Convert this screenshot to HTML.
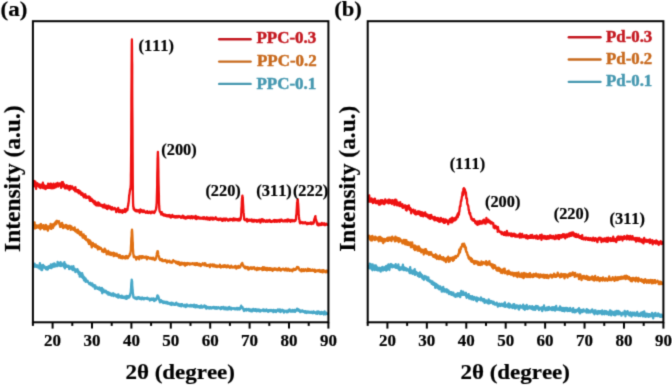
<!DOCTYPE html>
<html><head><meta charset="utf-8"><style>
html,body{margin:0;padding:0;background:#fff;}
body{width:672px;height:385px;overflow:hidden;font-family:"Liberation Serif", serif;}
svg{display:block;}
</style></head><body>
<svg width="672" height="385" viewBox="0 0 672 385" font-family='"Liberation Serif", serif' font-weight="bold" style="font-kerning:none">
<rect width="672" height="385" fill="#fff"/>
<defs><filter id="bl" color-interpolation-filters="sRGB" filterUnits="userSpaceOnUse" x="0" y="0" width="672" height="385"><feConvolveMatrix order="3" kernelMatrix="0.0225 0.1050 0.0225 0.1050 0.4900 0.1050 0.0225 0.1050 0.0225" preserveAlpha="true" edgeMode="duplicate"/></filter></defs><g filter="url(#bl)"><rect width="672" height="385" fill="#fff"/>
<polyline points="33.9,265.8 34.1,266.5 34.4,265.9 34.6,263.6 34.9,266.9 35.1,266.3 35.4,265.0 35.6,266.7 35.9,266.4 36.1,266.4 36.4,266.1 36.6,266.9 36.9,265.2 37.1,266.1 37.4,265.7 37.6,267.3 37.9,266.6 38.1,266.2 38.4,265.6 38.6,266.4 38.9,266.8 39.1,266.4 39.4,268.6 39.6,268.3 39.9,263.1 40.1,264.3 40.4,266.7 40.6,266.4 40.9,267.3 41.1,267.3 41.4,270.0 41.6,265.5 41.9,266.6 42.1,270.0 42.4,268.0 42.6,268.1 42.9,266.5 43.1,265.0 43.4,267.6 43.6,267.6 43.9,265.8 44.1,266.7 44.4,267.6 44.6,266.4 44.9,267.7 45.1,268.0 45.4,268.0 45.6,267.3 45.9,268.9 46.1,269.4 46.4,268.7 46.6,267.2 46.9,269.4 47.1,267.8 47.4,269.6 47.6,266.9 47.9,269.4 48.1,268.1 48.4,266.3 48.6,267.4 48.9,267.8 49.1,267.9 49.4,266.2 49.6,265.9 49.9,267.5 50.1,266.5 50.4,267.3 50.6,267.8 50.9,264.5 51.1,266.9 51.4,268.1 51.6,266.0 51.9,265.2 52.1,267.2 52.4,266.4 52.6,267.2 52.9,265.5 53.1,264.0 53.4,265.7 53.6,265.2 53.9,266.7 54.1,265.8 54.4,263.4 54.6,263.9 54.9,266.5 55.1,266.2 55.4,264.4 55.6,265.2 55.9,265.7 56.1,265.6 56.4,266.1 56.6,265.2 56.9,264.7 57.1,264.5 57.4,266.1 57.6,261.8 57.9,264.4 58.1,264.6 58.4,262.7 58.6,264.9 58.9,263.6 59.1,265.4 59.4,264.1 59.6,265.1 59.9,265.7 60.1,264.6 60.4,263.0 60.6,262.1 60.9,266.2 61.1,264.0 61.4,263.3 61.6,264.4 61.9,264.1 62.1,265.5 62.4,264.5 62.6,264.6 62.9,263.7 63.1,265.3 63.4,263.5 63.6,265.6 63.9,266.8 64.2,263.1 64.4,262.1 64.7,266.0 64.9,268.4 65.2,264.2 65.4,264.0 65.7,266.4 65.9,264.8 66.2,265.3 66.4,265.6 66.7,266.8 66.9,265.8 67.2,266.8 67.4,266.3 67.7,265.7 67.9,266.4 68.2,265.8 68.4,267.1 68.7,265.8 68.9,266.0 69.2,269.1 69.4,267.3 69.7,267.4 69.9,268.2 70.2,267.1 70.4,267.4 70.7,268.3 70.9,268.2 71.2,266.5 71.4,269.0 71.7,267.4 71.9,266.9 72.2,267.1 72.4,267.8 72.7,270.2 72.9,267.0 73.2,268.7 73.4,266.2 73.7,268.8 73.9,270.0 74.2,268.8 74.4,268.5 74.7,269.7 74.9,270.3 75.2,270.5 75.4,272.1 75.7,270.2 75.9,269.5 76.2,270.2 76.4,270.4 76.7,270.7 76.9,270.7 77.2,271.1 77.4,269.2 77.7,272.2 77.9,270.9 78.2,270.5 78.4,272.8 78.7,273.8 78.9,273.2 79.2,273.1 79.4,272.1 79.7,276.6 79.9,274.7 80.2,272.7 80.4,273.4 80.7,274.6 80.9,273.1 81.2,275.3 81.4,274.8 81.7,277.0 81.9,276.9 82.2,273.2 82.4,276.5 82.7,274.9 82.9,278.2 83.2,277.4 83.4,278.1 83.7,276.6 83.9,280.0 84.2,280.5 84.4,277.5 84.7,279.3 84.9,278.4 85.2,279.4 85.4,278.3 85.7,281.9 85.9,279.2 86.2,280.2 86.4,281.3 86.7,280.4 86.9,281.1 87.2,281.0 87.4,281.7 87.7,280.9 87.9,281.9 88.2,282.4 88.4,282.4 88.7,283.0 88.9,282.8 89.2,284.1 89.4,283.1 89.7,283.5 89.9,283.1 90.2,283.4 90.4,282.8 90.7,284.9 90.9,283.3 91.2,283.9 91.4,285.2 91.7,285.4 91.9,284.8 92.2,283.3 92.4,285.9 92.7,285.9 92.9,284.3 93.2,286.7 93.4,285.4 93.7,285.1 93.9,286.5 94.2,286.3 94.4,286.9 94.7,285.2 94.9,288.8 95.2,286.5 95.4,285.7 95.7,288.0 95.9,287.2 96.2,288.0 96.4,287.4 96.7,287.8 96.9,288.3 97.2,287.4 97.4,288.9 97.7,287.9 97.9,287.6 98.2,288.7 98.4,289.1 98.7,288.6 98.9,288.1 99.2,289.6 99.4,287.5 99.7,288.3 99.9,289.4 100.2,288.2 100.4,289.6 100.7,289.7 100.9,290.7 101.2,289.1 101.4,289.5 101.7,290.5 101.9,288.0 102.2,293.3 102.4,289.9 102.7,290.0 102.9,291.6 103.2,290.9 103.4,289.3 103.7,291.7 103.9,292.0 104.2,290.9 104.4,291.2 104.7,292.0 104.9,290.8 105.2,292.1 105.4,292.0 105.7,291.3 105.9,290.8 106.2,291.9 106.4,291.4 106.7,293.3 106.9,292.6 107.2,293.3 107.4,292.8 107.7,293.0 107.9,292.1 108.2,293.6 108.4,294.7 108.7,292.9 108.9,292.7 109.2,293.2 109.4,293.0 109.7,292.9 109.9,293.7 110.2,293.5 110.4,295.1 110.7,293.9 110.9,294.3 111.2,294.9 111.4,293.9 111.7,295.5 111.9,293.8 112.2,293.7 112.4,294.2 112.7,294.5 112.9,293.4 113.2,294.7 113.4,293.4 113.7,296.1 113.9,294.9 114.2,294.5 114.4,294.3 114.7,294.9 114.9,295.1 115.2,294.5 115.4,294.6 115.7,295.3 115.9,295.1 116.2,296.5 116.4,296.7 116.7,295.8 116.9,296.3 117.2,294.8 117.4,296.6 117.7,296.1 117.9,296.6 118.2,297.6 118.4,294.5 118.7,296.6 118.9,295.6 119.2,297.1 119.4,295.6 119.7,296.3 119.9,296.9 120.2,297.3 120.4,296.9 120.7,296.2 120.9,296.5 121.2,297.7 121.4,297.0 121.7,295.7 121.9,297.8 122.2,297.5 122.4,297.9 122.7,297.0 122.9,297.9 123.2,296.5 123.4,297.8 123.7,296.9 123.9,297.8 124.2,298.1 124.4,296.7 124.7,297.3 124.9,297.3 125.2,298.2 125.4,297.9 125.7,296.4 125.9,297.7 126.2,297.9 126.4,298.9 126.7,296.0 126.9,296.9 127.2,298.3 127.4,296.2 127.7,296.3 127.9,297.5 128.2,297.8 128.4,296.4 128.7,297.2 128.9,296.7 129.2,297.5 129.4,296.1 129.7,296.5 129.9,294.7 130.0,295.1 130.2,294.8 130.3,295.3 130.4,294.4 130.4,293.2 130.6,293.3 130.7,293.0 130.8,291.5 130.9,289.7 131.1,287.8 131.2,285.3 131.2,285.9 131.3,283.8 131.4,282.4 131.5,282.4 131.7,279.7 131.8,280.0 131.9,280.3 131.9,282.4 132.1,281.3 132.2,283.5 132.2,285.1 132.4,287.1 132.6,290.0 132.7,289.9 132.7,289.7 132.8,293.6 132.9,292.7 133.0,294.2 133.2,294.6 133.3,296.9 133.4,297.1 133.4,296.1 133.6,297.6 133.7,297.1 133.9,297.2 134.2,297.5 134.4,297.5 134.7,298.2 134.9,298.0 135.2,297.6 135.4,298.6 135.7,297.5 135.9,298.2 136.2,298.3 136.4,299.0 136.7,297.6 136.9,299.2 137.2,298.1 137.4,297.9 137.7,297.5 137.9,298.4 138.2,298.0 138.4,297.2 138.7,297.2 138.9,297.6 139.2,297.5 139.4,298.7 139.7,298.9 139.9,298.6 140.2,298.2 140.4,297.7 140.7,298.0 140.9,298.6 141.2,299.4 141.4,298.6 141.7,297.8 141.9,298.0 142.2,297.7 142.4,297.5 142.7,297.9 142.9,298.1 143.2,299.2 143.4,298.1 143.7,299.0 143.9,299.3 144.2,298.2 144.4,299.2 144.7,298.7 144.9,298.0 145.2,298.5 145.4,298.4 145.7,298.2 145.9,298.3 146.2,298.5 146.4,298.7 146.7,298.0 146.9,298.5 147.2,297.6 147.4,298.8 147.7,299.0 147.9,298.8 148.2,298.9 148.4,299.1 148.7,298.4 148.9,298.7 149.2,299.2 149.4,299.5 149.7,299.2 149.9,300.5 150.2,299.0 150.4,299.7 150.7,299.9 150.9,299.1 151.2,298.7 151.4,298.5 151.7,299.4 151.9,300.0 152.2,299.5 152.4,299.5 152.7,299.2 152.9,299.8 153.2,298.3 153.4,299.7 153.7,299.6 153.9,298.8 154.2,301.0 154.4,298.9 154.7,299.1 154.9,299.1 155.2,300.5 155.4,299.3 155.7,300.2 155.9,300.0 156.2,299.6 156.4,298.2 156.7,298.0 156.9,298.6 157.2,296.0 157.4,295.5 157.7,295.5 157.9,296.1 158.2,296.2 158.4,297.4 158.7,297.3 158.9,299.4 159.2,300.0 159.4,299.3 159.7,301.6 159.9,302.3 160.2,300.6 160.4,301.3 160.7,302.1 160.9,300.5 161.2,300.3 161.4,300.8 161.7,301.3 161.9,301.3 162.2,302.1 162.4,302.0 162.7,301.1 162.9,302.2 163.2,303.1 163.4,302.7 163.7,302.7 163.9,302.1 164.2,302.8 164.4,301.7 164.7,302.8 164.9,302.3 165.2,303.1 165.4,302.8 165.7,301.9 165.9,302.7 166.2,303.4 166.4,302.0 166.7,302.4 166.9,302.4 167.2,302.0 167.4,303.5 167.7,303.8 167.9,303.5 168.2,303.2 168.4,303.1 168.7,303.4 168.9,302.8 169.2,303.9 169.4,304.0 169.7,304.0 169.9,303.2 170.2,303.6 170.4,303.5 170.7,304.7 170.9,303.8 171.2,302.7 171.4,304.1 171.7,305.0 171.9,304.4 172.2,304.5 172.4,304.1 172.7,302.9 172.9,303.1 173.2,303.5 173.4,304.2 173.7,304.4 173.9,304.7 174.2,304.1 174.4,304.9 174.7,304.2 174.9,304.0 175.2,304.9 175.4,303.9 175.7,302.8 175.9,303.8 176.2,304.6 176.4,302.7 176.7,304.3 176.9,304.4 177.2,303.7 177.4,303.7 177.7,304.4 177.9,304.3 178.2,305.4 178.4,304.9 178.7,303.8 178.9,304.2 179.2,305.2 179.4,305.9 179.7,305.1 179.9,305.0 180.2,306.0 180.4,304.9 180.7,304.7 180.9,304.1 181.2,304.7 181.4,306.3 181.7,304.2 181.9,305.0 182.2,304.2 182.4,305.2 182.7,305.6 182.9,305.0 183.2,305.6 183.4,305.6 183.7,305.5 183.9,306.3 184.2,305.7 184.4,305.1 184.7,304.9 184.9,304.8 185.2,305.6 185.4,305.2 185.7,307.0 185.9,306.5 186.2,305.3 186.4,305.3 186.7,306.5 186.9,304.4 187.2,305.3 187.4,306.1 187.7,305.0 187.9,305.3 188.2,305.4 188.4,306.0 188.7,305.8 188.9,305.9 189.2,306.1 189.4,305.8 189.7,306.4 189.9,305.4 190.2,305.0 190.4,304.8 190.7,304.9 190.9,305.6 191.2,306.5 191.4,306.0 191.7,305.6 191.9,305.3 192.2,305.7 192.4,305.8 192.7,305.7 192.9,305.2 193.2,305.8 193.4,306.8 193.7,304.9 193.9,306.0 194.2,304.9 194.4,306.3 194.7,305.8 194.9,305.0 195.2,306.4 195.4,307.4 195.7,306.4 195.9,307.1 196.2,306.4 196.4,305.1 196.7,306.8 196.9,306.2 197.2,305.6 197.4,307.0 197.7,306.7 197.9,306.3 198.2,307.1 198.4,306.1 198.7,307.1 198.9,306.1 199.2,307.0 199.4,306.1 199.7,307.7 199.9,306.9 200.2,307.7 200.4,306.3 200.7,306.6 200.9,307.4 201.2,305.3 201.4,306.3 201.7,307.6 201.9,307.3 202.2,307.6 202.4,306.9 202.7,307.4 202.9,306.7 203.2,306.3 203.4,306.1 203.7,306.8 203.9,306.9 204.2,306.8 204.4,305.4 204.7,306.1 204.9,307.0 205.2,307.5 205.4,307.0 205.7,306.8 205.9,306.0 206.2,308.6 206.4,306.8 206.7,308.5 206.9,308.4 207.2,307.7 207.4,307.2 207.7,307.6 207.9,306.9 208.2,307.7 208.4,307.6 208.7,307.9 208.9,308.2 209.2,308.6 209.4,307.4 209.7,308.3 209.9,307.2 210.2,307.1 210.4,307.3 210.7,307.1 210.9,308.3 211.2,308.3 211.4,308.5 211.7,307.7 211.9,307.9 212.2,307.4 212.4,307.1 212.7,308.1 212.9,308.0 213.2,307.1 213.4,308.2 213.7,306.8 213.9,307.7 214.2,307.5 214.4,307.6 214.7,307.2 214.9,308.5 215.2,308.2 215.4,308.6 215.7,308.0 215.9,307.2 216.2,307.7 216.4,307.3 216.7,308.3 216.9,308.7 217.2,308.2 217.4,307.7 217.7,307.8 217.9,308.2 218.2,307.2 218.4,308.2 218.7,308.2 218.9,307.8 219.2,307.8 219.4,308.2 219.7,307.6 219.9,307.6 220.2,308.6 220.4,308.3 220.7,309.2 220.9,307.6 221.2,307.1 221.4,308.8 221.7,308.8 221.9,307.8 222.2,307.4 222.4,308.2 222.7,307.2 222.9,308.1 223.2,307.0 223.4,308.2 223.7,307.0 223.9,308.2 224.2,309.2 224.4,308.2 224.7,308.8 224.9,308.0 225.2,307.8 225.4,307.5 225.7,309.0 225.9,308.3 226.2,309.4 226.4,307.7 226.7,308.3 226.9,308.5 227.2,309.3 227.4,309.5 227.7,308.0 227.9,307.8 228.2,307.4 228.4,309.3 228.7,308.4 228.9,308.1 229.2,308.4 229.4,306.9 229.7,307.5 229.9,309.1 230.2,308.7 230.4,308.6 230.7,307.9 230.9,308.9 231.2,309.6 231.4,307.8 231.7,308.6 231.9,308.3 232.2,308.8 232.4,308.6 232.7,308.5 232.9,308.1 233.2,308.6 233.4,308.2 233.7,308.5 233.9,308.6 234.2,309.0 234.4,308.3 234.7,308.5 234.9,309.3 235.2,308.5 235.4,308.5 235.7,309.2 235.9,308.9 236.2,308.8 236.4,308.8 236.7,308.0 236.9,309.0 237.2,309.5 237.4,309.1 237.7,307.8 237.9,308.9 238.2,308.2 238.4,308.7 238.7,308.9 238.9,308.1 239.2,309.6 239.4,308.7 239.7,309.1 239.9,308.9 240.2,309.0 240.4,308.7 240.7,306.7 240.9,307.3 241.2,305.7 241.4,306.5 241.7,307.1 241.9,307.3 242.2,307.7 242.4,307.0 242.7,307.8 242.9,308.1 243.2,309.2 243.4,309.7 243.7,308.8 243.9,311.0 244.2,309.3 244.4,309.1 244.7,309.8 244.9,309.9 245.2,309.8 245.4,309.1 245.7,310.4 245.9,309.6 246.2,310.5 246.4,310.5 246.7,308.9 246.9,309.1 247.2,309.1 247.4,309.9 247.7,309.8 247.9,309.9 248.2,309.3 248.4,310.0 248.7,310.6 248.9,309.0 249.2,309.7 249.4,310.0 249.7,309.8 249.9,309.8 250.2,311.0 250.4,310.7 250.7,310.4 250.9,309.5 251.2,311.3 251.4,310.2 251.7,309.6 251.9,309.8 252.2,309.7 252.4,311.3 252.7,310.2 252.9,310.1 253.2,308.8 253.4,310.5 253.7,309.5 253.9,309.5 254.2,310.5 254.4,309.6 254.7,310.7 254.9,310.9 255.2,309.1 255.4,310.2 255.7,309.3 255.9,310.2 256.1,310.8 256.4,309.5 256.6,311.4 256.9,310.1 257.1,309.6 257.4,310.3 257.6,310.9 257.9,309.6 258.1,310.4 258.4,309.6 258.6,311.2 258.9,310.5 259.1,310.2 259.4,311.1 259.6,309.7 259.9,310.3 260.1,311.6 260.4,310.5 260.6,311.4 260.9,310.7 261.1,310.2 261.4,310.4 261.6,310.6 261.9,310.4 262.1,310.1 262.4,310.1 262.6,309.7 262.9,310.7 263.1,310.9 263.4,311.1 263.6,309.5 263.9,311.1 264.1,310.6 264.4,309.8 264.6,310.7 264.9,311.1 265.1,311.0 265.4,311.1 265.6,311.2 265.9,311.2 266.1,310.6 266.4,309.4 266.6,310.2 266.9,310.9 267.1,310.4 267.4,311.1 267.6,311.2 267.9,310.7 268.1,311.8 268.4,310.1 268.6,311.3 268.9,310.4 269.1,310.2 269.4,311.1 269.6,310.3 269.9,311.2 270.1,310.0 270.4,310.7 270.6,310.2 270.9,310.6 271.1,310.5 271.4,310.1 271.6,311.1 271.9,310.0 272.1,310.2 272.4,311.3 272.6,311.3 272.9,311.2 273.1,311.0 273.4,312.1 273.6,310.0 273.9,310.3 274.1,310.2 274.4,311.3 274.6,311.0 274.9,311.5 275.1,311.4 275.4,310.7 275.6,310.3 275.9,310.2 276.1,312.2 276.4,311.4 276.6,311.2 276.9,310.6 277.1,310.7 277.4,310.7 277.6,310.7 277.9,309.4 278.1,310.8 278.4,310.7 278.6,311.1 278.9,311.0 279.1,311.4 279.4,310.9 279.6,311.4 279.9,309.4 280.1,310.3 280.4,312.0 280.6,310.2 280.9,310.8 281.1,311.4 281.4,310.4 281.6,311.4 281.9,310.1 282.1,309.8 282.4,310.2 282.6,310.0 282.9,311.0 283.1,310.8 283.4,311.2 283.6,310.4 283.9,312.6 284.1,311.0 284.4,311.0 284.6,311.3 284.9,310.9 285.1,310.7 285.4,311.1 285.6,311.6 285.9,311.5 286.1,311.7 286.4,310.8 286.6,310.7 286.9,312.3 287.1,311.0 287.4,311.4 287.6,311.6 287.9,312.0 288.1,310.4 288.4,310.9 288.6,310.9 288.9,311.0 289.1,309.7 289.4,311.1 289.6,309.4 289.9,311.3 290.1,311.5 290.4,311.5 290.6,310.4 290.9,311.7 291.1,310.6 291.4,310.4 291.6,310.5 291.9,310.6 292.1,311.2 292.4,311.6 292.6,309.8 292.9,310.7 293.1,311.6 293.4,311.2 293.6,311.3 293.9,310.1 294.1,311.6 294.4,310.0 294.6,311.0 294.9,311.7 295.1,311.9 295.4,311.0 295.6,311.0 295.9,310.0 296.1,309.9 296.4,310.7 296.6,309.8 296.9,309.5 297.1,308.6 297.4,309.5 297.6,309.8 297.9,309.0 298.1,309.3 298.4,310.8 298.6,310.1 298.9,310.1 299.1,309.8 299.4,310.3 299.6,310.6 299.9,311.7 300.1,310.6 300.4,312.2 300.6,310.6 300.9,311.0 301.1,311.7 301.4,311.1 301.6,310.8 301.9,311.2 302.1,311.6 302.4,310.3 302.6,311.3 302.9,311.4 303.1,311.2 303.4,311.9 303.6,311.2 303.9,311.3 304.1,311.6 304.4,312.0 304.6,311.5 304.9,312.6 305.1,311.1 305.4,312.5 305.6,311.2 305.9,311.7 306.1,312.0 306.4,313.0 306.6,312.4 306.9,311.6 307.1,312.7 307.4,311.8 307.6,311.5 307.9,312.2 308.1,312.1 308.4,312.6 308.6,311.7 308.9,312.3 309.1,312.5 309.4,312.3 309.6,312.1 309.9,311.8 310.1,312.8 310.4,312.3 310.6,312.5 310.9,312.0 311.1,312.3 311.4,311.7 311.6,312.3 311.9,312.8 312.1,312.4 312.4,312.9 312.6,312.5 312.9,313.2 313.1,312.3 313.4,311.4 313.6,312.7 313.9,312.3 314.1,311.9 314.4,312.8 314.6,312.6 314.9,312.8 315.1,312.3 315.4,312.6 315.6,312.7 315.9,313.6 316.1,312.2 316.4,312.6 316.6,312.8 316.9,311.6 317.1,311.7 317.4,313.9 317.6,311.6 317.9,313.0 318.1,312.2 318.4,312.2 318.6,311.5 318.9,312.2 319.1,313.2 319.4,311.9 319.6,313.1 319.9,313.0 320.1,314.0 320.4,312.5 320.6,313.6 320.9,313.4 321.1,312.7 321.4,311.9 321.6,313.8 321.9,312.1 322.1,312.6 322.4,313.5 322.6,313.6 322.9,312.5 323.1,313.0 323.4,312.8 323.6,313.7 323.9,314.5 324.1,311.9 324.4,313.6 324.6,311.3 324.9,313.1 325.1,312.4 325.4,314.3 325.6,313.2 325.9,312.7 326.1,312.9 326.4,312.8 326.6,313.3 326.9,313.1 327.1,313.6 327.4,314.1 327.6,313.6" fill="none" stroke="#48a8c8" stroke-width="2.3" stroke-linejoin="round"/>
<polyline points="33.9,225.9 34.1,225.0 34.4,225.2 34.6,222.4 34.9,228.5 35.1,227.7 35.4,225.6 35.6,227.3 35.9,226.6 36.1,225.5 36.4,227.8 36.6,226.0 36.9,226.1 37.1,225.5 37.4,227.3 37.6,226.5 37.9,227.4 38.1,225.8 38.4,226.8 38.6,225.3 38.9,227.8 39.1,226.8 39.4,227.0 39.6,227.1 39.9,225.1 40.1,227.6 40.4,229.3 40.6,224.1 40.9,224.0 41.1,224.3 41.4,227.5 41.6,226.5 41.9,227.8 42.1,227.3 42.4,226.7 42.6,226.9 42.9,226.3 43.1,227.8 43.4,225.2 43.6,226.2 43.9,227.2 44.1,229.4 44.4,226.0 44.6,225.6 44.9,226.4 45.1,228.6 45.4,227.0 45.6,229.2 45.9,224.9 46.1,229.1 46.4,229.0 46.6,225.7 46.9,227.8 47.1,229.2 47.4,227.6 47.6,228.8 47.9,230.7 48.1,227.8 48.4,227.1 48.6,226.4 48.9,228.2 49.1,227.1 49.4,227.1 49.6,227.2 49.9,228.2 50.1,225.9 50.4,225.2 50.6,224.0 50.9,228.8 51.1,227.2 51.4,228.9 51.6,226.7 51.9,225.5 52.1,226.9 52.4,226.0 52.6,224.3 52.9,224.5 53.1,227.8 53.4,225.8 53.6,225.6 53.9,224.5 54.1,223.8 54.4,225.7 54.6,224.1 54.9,222.9 55.1,223.4 55.4,222.2 55.6,223.3 55.9,224.2 56.1,221.4 56.4,224.0 56.6,221.0 56.9,222.1 57.1,221.0 57.4,221.9 57.6,222.4 57.9,221.9 58.1,221.8 58.4,221.9 58.6,221.9 58.9,221.1 59.1,222.9 59.4,223.9 59.6,224.7 59.9,224.5 60.1,226.9 60.4,224.4 60.6,223.7 60.9,226.8 61.1,223.3 61.4,226.0 61.6,223.8 61.9,225.6 62.1,222.9 62.4,226.7 62.6,225.5 62.9,224.7 63.1,228.2 63.4,227.2 63.6,226.4 63.9,225.4 64.2,226.3 64.4,226.2 64.7,227.3 64.9,227.4 65.2,225.6 65.4,225.8 65.7,225.9 65.9,224.9 66.2,225.8 66.4,226.5 66.7,227.4 66.9,228.2 67.2,225.7 67.4,227.3 67.7,226.2 67.9,229.2 68.2,226.8 68.4,227.5 68.7,225.9 68.9,226.2 69.2,227.5 69.4,226.9 69.7,227.9 69.9,225.7 70.2,228.4 70.4,226.7 70.7,229.9 70.9,227.6 71.2,229.3 71.4,226.5 71.7,228.7 71.9,227.3 72.2,227.9 72.4,228.6 72.7,228.3 72.9,229.2 73.2,229.9 73.4,229.9 73.7,229.2 73.9,227.9 74.2,228.7 74.4,229.5 74.7,227.5 74.9,230.9 75.2,230.0 75.4,230.1 75.7,231.6 75.9,231.4 76.2,231.1 76.4,229.9 76.7,231.5 76.9,231.7 77.2,230.4 77.4,232.8 77.7,232.3 77.9,229.7 78.2,232.2 78.4,230.8 78.7,233.6 78.9,233.4 79.2,231.5 79.4,231.9 79.7,233.1 79.9,232.9 80.2,235.0 80.4,234.3 80.7,233.4 80.9,234.6 81.2,231.9 81.4,234.7 81.7,235.6 81.9,234.6 82.2,234.3 82.4,235.9 82.7,237.6 82.9,235.9 83.2,234.7 83.4,237.7 83.7,234.3 83.9,237.1 84.2,236.2 84.4,238.0 84.7,236.4 84.9,238.9 85.2,238.1 85.4,236.2 85.7,236.1 85.9,238.2 86.2,240.1 86.4,239.1 86.7,239.3 86.9,239.3 87.2,240.5 87.4,240.4 87.7,240.5 87.9,239.5 88.2,242.0 88.4,242.5 88.7,239.9 88.9,244.0 89.2,242.6 89.4,241.6 89.7,240.4 89.9,243.3 90.2,243.5 90.4,242.6 90.7,241.6 90.9,244.9 91.2,243.4 91.4,243.8 91.7,247.4 91.9,247.0 92.2,245.9 92.4,244.6 92.7,245.8 92.9,242.9 93.2,245.4 93.4,244.7 93.7,244.2 93.9,244.0 94.2,246.2 94.4,245.9 94.7,246.1 94.9,246.8 95.2,245.2 95.4,244.9 95.7,244.5 95.9,246.0 96.2,247.3 96.4,246.5 96.7,247.5 96.9,245.8 97.2,246.7 97.4,246.6 97.7,246.2 97.9,249.5 98.2,248.6 98.4,247.2 98.7,247.4 98.9,248.2 99.2,247.0 99.4,249.0 99.7,247.5 99.9,248.5 100.2,248.0 100.4,248.7 100.7,248.0 100.9,247.9 101.2,248.6 101.4,249.0 101.7,249.5 101.9,249.9 102.2,251.4 102.4,250.9 102.7,250.0 102.9,251.0 103.2,249.8 103.4,252.0 103.7,251.2 103.9,249.6 104.2,251.6 104.4,251.8 104.7,248.7 104.9,250.6 105.2,250.9 105.4,249.7 105.7,250.6 105.9,250.8 106.2,252.3 106.4,252.2 106.7,254.4 106.9,251.8 107.2,253.3 107.4,252.4 107.7,252.7 107.9,251.5 108.2,250.9 108.4,252.0 108.7,253.5 108.9,254.3 109.2,253.5 109.4,253.5 109.7,252.4 109.9,254.6 110.2,254.5 110.4,253.0 110.7,253.5 110.9,252.7 111.2,255.0 111.4,254.2 111.7,253.8 111.9,254.3 112.2,254.3 112.4,253.6 112.7,253.0 112.9,253.0 113.2,252.7 113.4,254.6 113.7,256.2 113.9,252.8 114.2,254.5 114.4,254.8 114.7,253.6 114.9,254.7 115.2,253.6 115.4,255.7 115.7,254.2 115.9,254.9 116.2,255.5 116.4,254.7 116.7,253.6 116.9,254.8 117.2,256.0 117.4,255.4 117.7,255.8 117.9,254.8 118.2,255.9 118.4,256.5 118.7,256.0 118.9,257.7 119.2,256.0 119.4,255.4 119.7,255.0 119.9,257.3 120.2,256.4 120.4,257.4 120.7,257.0 120.9,258.0 121.2,257.8 121.4,256.5 121.7,257.1 121.9,257.9 122.2,256.1 122.4,258.3 122.7,258.2 122.9,258.1 123.2,257.2 123.4,257.6 123.7,256.5 123.9,257.5 124.2,257.0 124.4,257.5 124.7,257.1 124.9,257.8 125.2,258.5 125.4,256.6 125.7,258.3 125.9,256.1 126.2,256.0 126.4,257.6 126.7,257.7 126.9,258.0 127.2,256.3 127.4,257.5 127.7,257.5 127.9,258.2 128.2,257.1 128.4,257.3 128.7,255.9 128.9,256.2 129.2,255.6 129.4,255.9 129.7,254.1 129.9,253.7 130.2,254.1 130.2,254.8 130.3,253.2 130.4,252.9 130.5,251.9 130.7,251.9 130.8,250.1 130.9,249.7 130.9,247.9 131.1,244.4 131.2,243.8 131.2,241.3 131.4,237.8 131.6,236.3 131.7,234.0 131.7,231.7 131.8,232.1 131.9,230.7 132.0,229.7 132.2,231.6 132.3,233.6 132.4,235.2 132.4,235.5 132.6,240.6 132.7,242.1 132.8,242.5 132.9,248.1 133.1,251.0 133.2,251.7 133.2,252.8 133.3,254.0 133.4,254.0 133.5,255.0 133.7,257.0 133.8,255.4 133.9,256.8 134.2,257.2 134.4,256.7 134.7,257.0 134.9,256.5 135.2,256.9 135.4,257.6 135.7,257.8 135.9,257.0 136.2,259.7 136.4,257.2 136.7,257.6 136.9,257.4 137.2,257.3 137.4,258.4 137.7,257.2 137.9,258.4 138.2,258.3 138.4,256.7 138.7,258.2 138.9,257.0 139.2,259.3 139.4,257.1 139.7,256.8 139.9,256.1 140.2,256.5 140.4,257.0 140.7,256.7 140.9,256.5 141.2,256.8 141.4,257.2 141.7,258.2 141.9,256.1 142.2,256.9 142.4,256.6 142.7,256.2 142.9,256.4 143.2,256.6 143.4,257.7 143.7,257.1 143.9,256.9 144.2,257.7 144.4,257.5 144.7,257.2 144.9,257.6 145.2,256.8 145.4,257.7 145.7,257.7 145.9,257.1 146.2,256.6 146.4,258.4 146.7,257.5 146.9,259.3 147.2,257.0 147.4,258.0 147.7,257.2 147.9,257.7 148.2,258.1 148.4,257.1 148.7,257.6 148.9,257.9 149.2,257.9 149.4,258.3 149.7,258.6 149.9,258.5 150.2,258.3 150.4,258.0 150.7,257.6 150.9,257.9 151.2,258.1 151.4,258.9 151.7,258.3 151.9,257.9 152.2,259.1 152.4,258.3 152.7,258.4 152.9,258.8 153.2,259.2 153.4,257.6 153.7,258.4 153.9,259.3 154.2,259.0 154.4,258.7 154.7,258.9 154.9,260.0 155.2,258.9 155.4,259.5 155.7,259.3 155.9,258.2 156.2,258.0 156.4,256.5 156.7,255.0 156.9,253.2 157.2,253.1 157.4,251.4 157.7,251.1 157.9,251.3 158.2,254.2 158.4,255.0 158.7,256.0 158.9,256.9 159.2,257.3 159.4,259.0 159.7,259.4 159.9,258.5 160.2,260.2 160.4,260.1 160.7,259.1 160.9,259.4 161.2,259.6 161.4,260.0 161.7,259.9 161.9,259.1 162.2,261.0 162.4,260.4 162.7,261.0 162.9,261.1 163.2,260.3 163.4,260.7 163.7,261.0 163.9,261.1 164.2,260.6 164.4,260.4 164.7,260.8 164.9,260.4 165.2,260.6 165.4,259.8 165.7,261.2 165.9,260.6 166.2,260.9 166.4,261.3 166.7,261.6 166.9,262.6 167.2,261.6 167.4,260.7 167.7,261.6 167.9,261.2 168.2,261.8 168.4,261.2 168.7,261.2 168.9,261.4 169.2,261.3 169.4,260.6 169.7,261.3 169.9,261.7 170.2,262.5 170.4,261.6 170.7,261.6 170.9,262.1 171.2,262.1 171.4,262.7 171.7,262.1 171.9,261.7 172.2,262.4 172.4,262.5 172.7,261.2 172.9,261.4 173.2,260.2 173.4,261.0 173.7,260.6 173.9,261.1 174.2,260.9 174.4,261.2 174.7,261.4 174.9,261.9 175.2,261.9 175.4,261.6 175.7,261.4 175.9,263.0 176.2,263.3 176.4,262.3 176.7,263.0 176.9,261.8 177.2,261.9 177.4,262.7 177.7,263.8 177.9,262.3 178.2,262.5 178.4,264.0 178.7,262.0 178.9,263.6 179.2,263.5 179.4,263.2 179.7,263.4 179.9,265.0 180.2,262.8 180.4,263.3 180.7,263.4 180.9,263.2 181.2,262.8 181.4,264.6 181.7,263.9 181.9,262.7 182.2,263.4 182.4,264.1 182.7,264.2 182.9,263.1 183.2,263.9 183.4,264.1 183.7,264.2 183.9,264.2 184.2,262.9 184.4,265.1 184.7,264.1 184.9,265.0 185.2,265.7 185.4,263.8 185.7,263.2 185.9,264.4 186.2,263.8 186.4,263.6 186.7,263.3 186.9,264.9 187.2,263.6 187.4,263.0 187.7,263.6 187.9,263.2 188.2,263.9 188.4,263.6 188.7,263.2 188.9,264.2 189.2,263.4 189.4,264.2 189.7,264.6 189.9,263.6 190.2,263.4 190.4,263.9 190.7,264.3 190.9,263.8 191.2,263.8 191.4,263.7 191.7,263.9 191.9,264.1 192.2,263.3 192.4,263.4 192.7,263.7 192.9,263.3 193.2,263.8 193.4,264.1 193.7,263.8 193.9,263.5 194.2,263.4 194.4,264.9 194.7,264.4 194.9,263.3 195.2,263.5 195.4,265.1 195.7,265.0 195.9,264.2 196.2,264.8 196.4,263.2 196.7,264.2 196.9,264.7 197.2,263.1 197.4,263.8 197.7,264.8 197.9,265.0 198.2,264.0 198.4,264.6 198.7,265.4 198.9,264.2 199.2,263.7 199.4,264.5 199.7,264.3 199.9,265.4 200.2,264.7 200.4,264.1 200.7,266.1 200.9,264.3 201.2,264.9 201.4,265.0 201.7,265.0 201.9,264.5 202.2,264.7 202.4,264.2 202.7,263.3 202.9,264.0 203.2,263.9 203.4,263.9 203.7,264.1 203.9,263.8 204.2,265.0 204.4,265.3 204.7,263.2 204.9,264.7 205.2,264.4 205.4,263.3 205.7,265.3 205.9,264.7 206.2,264.9 206.4,264.8 206.7,265.9 206.9,266.0 207.2,265.5 207.4,265.8 207.7,265.3 207.9,265.5 208.2,265.0 208.4,265.5 208.7,265.0 208.9,265.7 209.2,266.0 209.4,265.7 209.7,266.2 209.9,267.2 210.2,264.3 210.4,265.6 210.7,265.3 210.9,265.4 211.2,264.8 211.4,265.7 211.7,265.5 211.9,265.3 212.2,265.6 212.4,265.4 212.7,264.4 212.9,266.4 213.2,265.6 213.4,265.3 213.7,266.0 213.9,265.4 214.2,264.6 214.4,266.4 214.7,264.9 214.9,265.8 215.2,266.0 215.4,266.7 215.7,266.6 215.9,266.0 216.2,265.5 216.4,265.7 216.7,266.6 216.9,267.1 217.2,266.3 217.4,265.6 217.7,266.7 217.9,265.8 218.2,265.8 218.4,265.9 218.7,266.4 218.9,266.3 219.2,266.7 219.4,266.9 219.7,266.4 219.9,264.7 220.2,265.1 220.4,266.3 220.7,266.1 220.9,267.5 221.2,266.2 221.4,266.1 221.7,266.8 221.9,266.9 222.2,266.1 222.4,266.6 222.7,265.6 222.9,265.7 223.2,267.1 223.4,265.5 223.7,266.9 223.9,266.8 224.2,266.8 224.4,266.9 224.7,266.8 224.9,265.1 225.2,265.8 225.4,266.1 225.7,267.0 225.9,265.8 226.2,266.1 226.4,266.3 226.7,267.3 226.9,265.7 227.2,265.8 227.4,267.0 227.7,265.4 227.9,266.8 228.2,266.4 228.4,265.7 228.7,266.4 228.9,266.1 229.2,266.8 229.4,267.0 229.7,267.7 229.9,266.8 230.2,266.9 230.4,266.5 230.7,266.8 230.9,267.5 231.2,265.7 231.4,267.3 231.7,266.6 231.9,267.0 232.2,267.1 232.4,267.5 232.7,267.1 232.9,266.8 233.2,267.2 233.4,267.0 233.7,266.9 233.9,267.1 234.2,267.5 234.4,267.0 234.7,267.0 234.9,266.2 235.2,266.9 235.4,265.8 235.7,267.4 235.9,266.4 236.2,267.7 236.4,268.7 236.7,266.7 236.9,267.7 237.2,267.1 237.4,266.5 237.7,266.4 237.9,267.2 238.2,267.7 238.4,267.1 238.7,265.9 238.9,266.2 239.2,266.7 239.4,267.6 239.7,266.9 239.9,266.9 240.2,267.3 240.4,266.3 240.7,266.0 240.9,265.6 241.2,264.1 241.4,264.9 241.7,264.3 241.9,264.3 242.2,262.9 242.4,263.2 242.7,264.6 242.9,264.8 243.2,266.1 243.4,265.4 243.7,266.6 243.9,266.5 244.2,267.4 244.4,267.1 244.7,267.8 244.9,268.2 245.2,268.1 245.4,266.6 245.7,268.3 245.9,268.1 246.2,267.2 246.4,267.4 246.7,267.9 246.9,268.3 247.2,267.7 247.4,267.0 247.7,268.2 247.9,268.2 248.2,269.5 248.4,267.3 248.7,269.6 248.9,269.2 249.2,268.3 249.4,269.1 249.7,268.2 249.9,268.8 250.2,267.7 250.4,268.2 250.7,267.6 250.9,267.3 251.2,268.1 251.4,267.9 251.7,268.6 251.9,269.0 252.2,268.2 252.4,268.3 252.7,268.4 252.9,267.3 253.2,268.5 253.4,268.4 253.7,268.4 253.9,267.7 254.2,267.2 254.4,268.3 254.7,268.6 254.9,269.3 255.2,269.1 255.4,269.4 255.7,268.7 255.9,269.2 256.1,268.4 256.4,268.9 256.6,269.1 256.9,270.2 257.1,268.7 257.4,267.8 257.6,269.4 257.9,268.1 258.1,268.6 258.4,268.5 258.6,268.1 258.9,269.5 259.1,269.1 259.4,268.3 259.6,268.8 259.9,268.5 260.1,269.1 260.4,268.5 260.6,268.3 260.9,268.4 261.1,268.5 261.4,269.0 261.6,268.3 261.9,268.8 262.1,269.1 262.4,270.2 262.6,269.4 262.9,267.1 263.1,268.6 263.4,268.6 263.6,269.1 263.9,269.8 264.1,269.3 264.4,267.5 264.6,269.1 264.9,269.0 265.1,269.2 265.4,269.7 265.6,268.3 265.9,269.6 266.1,268.0 266.4,269.0 266.6,269.2 266.9,270.3 267.1,268.6 267.4,268.0 267.6,269.4 267.9,268.6 268.1,269.9 268.4,268.6 268.6,268.5 268.9,269.8 269.1,269.1 269.4,269.6 269.6,268.2 269.9,270.0 270.1,268.7 270.4,269.6 270.6,268.5 270.9,268.2 271.1,268.9 271.4,269.2 271.6,270.1 271.9,269.3 272.1,269.5 272.4,269.5 272.6,270.9 272.9,268.6 273.1,269.9 273.4,269.1 273.6,269.3 273.9,268.8 274.1,269.9 274.4,268.4 274.6,268.4 274.9,269.1 275.1,268.5 275.4,269.6 275.6,269.8 275.9,268.8 276.1,269.7 276.4,268.9 276.6,269.3 276.9,269.3 277.1,270.4 277.4,269.3 277.6,268.8 277.9,268.8 278.1,270.1 278.4,268.4 278.6,269.1 278.9,269.2 279.1,267.9 279.4,269.1 279.6,270.0 279.9,269.6 280.1,268.9 280.4,269.9 280.6,269.8 280.9,270.7 281.1,269.1 281.4,269.3 281.6,269.6 281.9,269.5 282.1,269.6 282.4,269.5 282.6,269.2 282.9,268.6 283.1,269.3 283.4,268.8 283.6,269.0 283.9,269.3 284.1,270.0 284.4,270.2 284.6,269.1 284.9,269.9 285.1,270.2 285.4,269.7 285.6,268.7 285.9,268.4 286.1,270.2 286.4,270.3 286.6,269.9 286.9,269.2 287.1,270.7 287.4,270.5 287.6,269.8 287.9,269.7 288.1,268.7 288.4,270.3 288.6,268.9 288.9,270.3 289.1,270.3 289.4,269.9 289.6,270.8 289.9,269.7 290.1,270.3 290.4,270.4 290.6,270.1 290.9,269.7 291.1,270.7 291.4,270.2 291.6,269.8 291.9,269.8 292.1,270.0 292.4,271.3 292.6,270.0 292.9,269.8 293.1,269.3 293.4,269.2 293.6,268.8 293.9,270.1 294.1,270.0 294.4,269.4 294.6,269.1 294.9,269.7 295.1,269.6 295.4,269.0 295.6,269.8 295.9,269.5 296.1,269.0 296.4,269.1 296.6,267.9 296.9,268.7 297.1,266.9 297.4,267.6 297.6,267.7 297.9,267.2 298.1,267.9 298.4,267.3 298.6,267.6 298.9,268.8 299.1,268.8 299.4,269.9 299.6,269.8 299.9,270.3 300.1,270.2 300.4,270.2 300.6,270.2 300.9,269.9 301.1,269.9 301.4,271.4 301.6,269.1 301.9,270.0 302.1,270.8 302.4,270.4 302.6,271.0 302.9,270.5 303.1,269.4 303.4,270.0 303.6,269.4 303.9,270.8 304.1,271.1 304.4,270.0 304.6,270.5 304.9,270.0 305.1,269.4 305.4,270.0 305.6,269.3 305.9,269.9 306.1,270.4 306.4,270.7 306.6,271.1 306.9,270.1 307.1,270.4 307.4,270.5 307.6,270.6 307.9,268.6 308.1,269.8 308.4,270.8 308.6,269.7 308.9,270.5 309.1,270.8 309.4,269.2 309.6,270.2 309.9,270.5 310.1,270.4 310.4,269.5 310.6,270.6 310.9,270.0 311.1,270.9 311.4,270.7 311.6,270.1 311.9,270.5 312.1,270.0 312.4,270.0 312.6,269.5 312.9,270.3 313.1,270.9 313.4,270.5 313.6,270.4 313.9,270.1 314.1,270.2 314.4,270.9 314.6,269.6 314.9,271.8 315.1,270.5 315.4,271.9 315.6,271.3 315.9,270.4 316.1,271.1 316.4,270.9 316.6,271.0 316.9,271.3 317.1,270.5 317.4,270.5 317.6,270.6 317.9,270.1 318.1,270.8 318.4,271.1 318.6,271.1 318.9,271.1 319.1,270.8 319.4,271.5 319.6,269.8 319.9,270.9 320.1,270.9 320.4,271.7 320.6,271.6 320.9,271.7 321.1,271.3 321.4,271.8 321.6,270.7 321.9,271.4 322.1,270.1 322.4,272.4 322.6,272.4 322.9,271.1 323.1,271.0 323.4,270.2 323.6,270.6 323.9,271.6 324.1,271.5 324.4,270.7 324.6,271.3 324.9,271.3 325.1,272.0 325.4,272.2 325.6,271.6 325.9,271.9 326.1,271.8 326.4,270.6 326.6,272.0 326.9,271.9 327.1,272.4 327.4,270.8 327.6,272.4" fill="none" stroke="#e07012" stroke-width="2.3" stroke-linejoin="round"/>
<polyline points="33.9,187.4 34.1,180.8 34.4,185.1 34.6,183.7 34.9,183.9 35.1,184.2 35.4,181.7 35.6,184.2 35.9,183.4 36.1,188.9 36.4,184.9 36.6,184.1 36.9,184.3 37.1,183.7 37.4,183.2 37.6,184.2 37.9,185.4 38.1,184.4 38.4,186.1 38.6,184.5 38.9,184.8 39.1,187.0 39.4,185.7 39.6,184.4 39.9,185.0 40.1,186.1 40.4,188.1 40.6,185.2 40.9,185.3 41.1,187.2 41.4,184.7 41.6,185.6 41.9,187.4 42.1,187.0 42.4,186.5 42.6,187.4 42.9,182.7 43.1,188.1 43.4,185.5 43.6,184.6 43.9,187.4 44.1,188.1 44.4,186.5 44.6,185.6 44.9,187.1 45.1,187.0 45.4,189.0 45.6,188.1 45.9,187.4 46.1,188.6 46.4,186.8 46.6,185.8 46.9,187.9 47.1,187.9 47.4,186.8 47.6,186.0 47.9,187.4 48.1,183.7 48.4,187.9 48.6,187.6 48.9,184.7 49.1,187.0 49.4,185.5 49.6,187.8 49.9,184.0 50.1,185.5 50.4,187.6 50.6,188.1 50.9,183.7 51.1,185.8 51.4,186.9 51.6,185.6 51.9,188.4 52.1,184.7 52.4,186.7 52.6,184.8 52.9,188.0 53.1,186.1 53.4,185.5 53.6,183.7 53.9,188.1 54.1,186.9 54.4,186.8 54.6,187.2 54.9,186.2 55.1,184.9 55.4,184.6 55.6,184.5 55.9,187.3 56.1,183.6 56.4,184.7 56.6,185.0 56.9,185.6 57.1,186.0 57.4,183.6 57.6,182.9 57.9,185.0 58.1,186.5 58.4,185.8 58.6,185.1 58.9,184.3 59.1,185.0 59.4,184.3 59.6,185.5 59.9,183.4 60.1,184.6 60.4,184.3 60.6,185.2 60.9,184.8 61.1,187.8 61.4,186.5 61.6,186.5 61.9,182.2 62.1,184.3 62.4,184.0 62.6,185.5 62.9,182.1 63.1,186.5 63.4,186.5 63.6,183.7 63.9,184.2 64.2,184.5 64.4,185.6 64.7,186.4 64.9,188.3 65.2,185.6 65.4,186.9 65.7,186.2 65.9,188.3 66.2,187.2 66.4,188.0 66.7,185.2 66.9,186.3 67.2,185.7 67.4,188.5 67.7,187.6 67.9,186.5 68.2,186.4 68.4,187.6 68.7,186.2 68.9,186.0 69.2,187.8 69.4,190.2 69.7,187.1 69.9,186.8 70.2,186.1 70.4,186.0 70.7,188.3 70.9,188.7 71.2,187.8 71.4,188.3 71.7,188.1 71.9,188.3 72.2,186.4 72.4,187.8 72.7,188.5 72.9,187.6 73.2,188.0 73.4,187.7 73.7,188.4 73.9,189.9 74.2,188.5 74.4,188.9 74.7,190.1 74.9,190.0 75.2,191.3 75.4,187.1 75.7,190.5 75.9,189.1 76.2,189.9 76.4,190.8 76.7,191.2 76.9,191.2 77.2,190.3 77.4,192.1 77.7,190.1 77.9,190.3 78.2,191.5 78.4,190.1 78.7,193.2 78.9,192.0 79.2,193.4 79.4,191.1 79.7,190.9 79.9,191.8 80.2,192.7 80.4,191.6 80.7,192.9 80.9,192.7 81.2,194.8 81.4,192.6 81.7,194.7 81.9,193.2 82.2,193.1 82.4,193.7 82.7,193.4 82.9,195.1 83.2,196.3 83.4,195.5 83.7,196.1 83.9,197.4 84.2,196.0 84.4,196.1 84.7,195.7 84.9,194.4 85.2,197.1 85.4,194.5 85.7,197.3 85.9,196.7 86.2,198.0 86.4,196.9 86.7,196.2 86.9,197.6 87.2,196.8 87.4,197.3 87.7,197.7 87.9,197.7 88.2,197.9 88.4,197.4 88.7,198.2 88.9,196.4 89.2,198.6 89.4,197.7 89.7,200.3 89.9,200.7 90.2,197.5 90.4,199.9 90.7,199.8 90.9,199.0 91.2,200.8 91.4,200.0 91.7,198.8 91.9,200.5 92.2,200.8 92.4,201.2 92.7,200.0 92.9,202.0 93.2,202.2 93.4,200.4 93.7,201.0 93.9,201.8 94.2,201.4 94.4,203.8 94.7,202.4 94.9,201.3 95.2,201.7 95.4,202.5 95.7,205.0 95.9,202.7 96.2,203.1 96.4,203.5 96.7,203.1 96.9,205.5 97.2,202.8 97.4,204.1 97.7,203.7 97.9,204.2 98.2,202.5 98.4,205.5 98.7,203.8 98.9,204.0 99.2,203.2 99.4,203.5 99.7,204.8 99.9,205.3 100.2,205.2 100.4,205.7 100.7,205.3 100.9,204.8 101.2,205.6 101.4,205.5 101.7,204.9 101.9,205.8 102.2,206.5 102.4,205.6 102.7,205.1 102.9,206.2 103.2,207.4 103.4,205.5 103.7,205.7 103.9,205.8 104.2,207.2 104.4,204.4 104.7,206.6 104.9,207.5 105.2,205.7 105.4,207.9 105.7,207.2 105.9,206.3 106.2,207.1 106.4,205.6 106.7,206.6 106.9,208.9 107.2,206.5 107.4,209.1 107.7,207.4 107.9,208.4 108.2,207.6 108.4,205.6 108.7,207.2 108.9,207.9 109.2,206.8 109.4,206.6 109.7,208.2 109.9,207.4 110.2,206.5 110.4,207.4 110.7,208.9 110.9,207.7 111.2,209.0 111.4,209.6 111.7,208.4 111.9,207.4 112.2,207.3 112.4,208.5 112.7,209.4 112.9,208.9 113.2,209.3 113.4,208.5 113.7,209.2 113.9,208.6 114.2,208.8 114.4,208.0 114.7,207.9 114.9,208.9 115.2,208.4 115.4,208.6 115.7,210.1 115.9,209.6 116.2,212.2 116.4,210.6 116.7,209.4 116.9,210.7 117.2,210.4 117.4,209.6 117.7,211.2 117.9,209.8 118.2,208.0 118.4,211.2 118.7,210.2 118.9,212.0 119.2,210.3 119.4,209.9 119.7,212.2 119.9,210.0 120.2,211.1 120.4,212.1 120.7,211.0 120.9,210.9 121.2,211.0 121.4,211.6 121.7,210.3 121.9,211.4 122.2,211.4 122.4,212.8 122.7,210.7 122.9,210.2 123.2,211.5 123.4,210.6 123.7,211.2 123.9,211.0 124.2,211.8 124.4,210.4 124.7,210.8 124.9,208.9 125.2,210.1 125.4,212.0 125.7,210.2 125.9,210.1 126.2,209.6 126.4,210.9 126.7,210.3 126.7,209.2 126.9,210.4 127.0,209.8 127.2,210.0 127.4,208.3 127.4,210.1 127.7,208.1 127.7,207.5 127.9,206.2 128.0,205.7 128.2,205.8 128.3,203.5 128.4,204.1 128.7,201.6 128.7,202.0 128.9,199.5 129.0,197.9 129.2,195.0 129.3,195.1 129.4,194.8 129.7,192.3 129.9,191.0 130.0,189.9 130.2,189.3 130.3,188.4 130.4,189.8 130.6,187.9 130.6,186.5 130.7,185.5 130.7,186.1 130.8,184.4 130.9,178.5 130.9,176.9 130.9,175.1 131.0,171.0 131.1,158.5 131.2,153.4 131.2,142.3 131.3,133.2 131.3,121.5 131.4,108.0 131.4,99.4 131.6,75.7 131.6,70.2 131.7,58.7 131.7,56.8 131.8,44.2 131.9,39.4 131.9,40.4 132.0,46.1 132.1,60.8 132.2,64.2 132.2,81.6 132.2,85.0 132.3,107.1 132.4,117.3 132.5,130.9 132.6,152.9 132.7,166.0 132.7,170.0 132.8,183.3 132.9,192.9 132.9,193.0 133.0,199.5 133.1,203.8 133.2,204.4 133.2,204.8 133.2,206.6 133.4,206.3 133.6,208.8 133.7,207.6 133.9,208.2 133.9,209.7 134.2,209.2 134.2,209.0 134.4,209.4 134.7,210.2 134.9,210.0 135.2,210.1 135.4,211.0 135.7,209.8 135.9,210.0 136.2,210.0 136.4,211.3 136.7,211.2 136.9,211.4 137.2,210.5 137.4,210.5 137.7,211.2 137.9,210.4 138.2,211.3 138.4,211.3 138.7,210.3 138.9,210.8 139.2,210.8 139.4,212.1 139.7,212.7 139.9,210.9 140.2,211.0 140.4,209.5 140.7,211.2 140.9,211.1 141.2,210.5 141.4,211.7 141.7,210.2 141.9,211.1 142.2,211.4 142.4,210.5 142.7,211.9 142.9,212.1 143.2,210.5 143.4,210.5 143.7,211.9 143.9,211.5 144.2,210.7 144.4,211.4 144.7,211.5 144.9,211.5 145.2,212.2 145.4,211.9 145.7,212.8 145.9,212.6 146.2,212.2 146.4,212.4 146.7,212.6 146.9,212.3 147.2,211.1 147.4,212.4 147.7,211.9 147.9,212.9 148.2,212.0 148.4,212.3 148.7,212.2 148.9,213.0 149.2,212.1 149.4,211.8 149.7,212.2 149.9,211.8 150.2,212.2 150.4,212.1 150.7,212.3 150.9,213.3 151.2,211.9 151.4,212.2 151.7,212.0 151.9,212.6 152.2,211.5 152.4,211.8 152.7,212.2 152.9,212.6 153.2,212.2 153.4,212.0 153.7,211.7 153.9,212.5 154.2,213.0 154.4,212.3 154.7,212.0 154.9,211.9 155.2,210.8 155.4,210.7 155.7,210.1 155.9,209.6 156.2,208.3 156.2,207.0 156.4,207.3 156.4,207.5 156.5,204.9 156.7,203.2 156.7,202.9 156.8,199.8 156.9,195.2 156.9,195.7 157.1,188.4 157.2,185.6 157.2,181.5 157.3,173.1 157.4,170.3 157.5,166.0 157.6,158.2 157.7,157.5 157.8,154.0 157.9,151.8 158.0,155.5 158.2,159.0 158.2,159.7 158.3,167.6 158.4,171.6 158.4,175.2 158.6,184.6 158.7,187.8 158.7,189.8 158.9,195.6 158.9,198.2 159.0,202.8 159.1,205.3 159.2,205.7 159.3,208.2 159.4,208.7 159.4,209.5 159.6,210.8 159.7,211.1 159.9,211.8 160.2,211.6 160.4,212.5 160.7,212.2 160.9,213.5 161.2,214.5 161.4,212.7 161.7,212.1 161.9,213.3 162.2,214.0 162.4,214.6 162.7,214.8 162.9,213.8 163.2,214.0 163.4,215.4 163.7,214.2 163.9,215.6 164.2,214.8 164.4,215.5 164.7,215.5 164.9,215.6 165.2,215.7 165.4,214.6 165.7,215.5 165.9,215.3 166.2,215.6 166.4,216.2 166.7,215.3 166.9,215.1 167.2,215.2 167.4,215.5 167.7,216.2 167.9,215.3 168.2,216.5 168.4,216.0 168.7,215.8 168.9,215.2 169.2,216.1 169.4,216.4 169.7,215.0 169.9,216.8 170.2,217.1 170.4,216.3 170.7,216.4 170.9,217.6 171.2,216.9 171.4,215.7 171.7,216.2 171.9,216.2 172.2,216.2 172.4,214.9 172.7,216.8 172.9,216.0 173.2,216.5 173.4,216.3 173.7,217.0 173.9,216.3 174.2,216.0 174.4,216.8 174.7,217.4 174.9,216.4 175.2,217.4 175.4,216.8 175.7,216.3 175.9,217.6 176.2,216.2 176.4,217.3 176.7,216.4 176.9,217.0 177.2,216.0 177.4,216.2 177.7,217.4 177.9,216.8 178.2,216.8 178.4,216.5 178.7,217.0 178.9,215.9 179.2,216.1 179.4,216.7 179.7,216.3 179.9,216.4 180.2,216.8 180.4,216.8 180.7,216.7 180.9,217.9 181.2,217.5 181.4,217.7 181.7,216.9 181.9,216.6 182.2,216.1 182.4,216.8 182.7,215.7 182.9,216.6 183.2,217.5 183.4,218.0 183.7,217.6 183.9,216.5 184.2,217.3 184.4,216.6 184.7,217.6 184.9,217.0 185.2,217.6 185.4,218.7 185.7,217.7 185.9,218.5 186.2,217.3 186.4,217.0 186.7,218.0 186.9,218.2 187.2,216.9 187.4,217.3 187.7,216.4 187.9,217.1 188.2,217.8 188.4,217.2 188.7,216.9 188.9,216.4 189.2,217.5 189.4,217.8 189.7,217.7 189.9,217.5 190.2,216.6 190.4,218.4 190.7,217.3 190.9,217.3 191.2,217.8 191.4,216.1 191.7,217.4 191.9,217.4 192.2,217.7 192.4,218.3 192.7,217.8 192.9,216.4 193.2,217.3 193.4,217.6 193.7,217.6 193.9,216.8 194.2,216.6 194.4,217.9 194.7,217.8 194.9,217.6 195.2,216.6 195.4,218.7 195.7,215.9 195.9,217.5 196.2,219.0 196.4,217.6 196.7,217.9 196.9,217.0 197.2,218.6 197.4,217.0 197.7,217.9 197.9,217.9 198.2,217.2 198.4,218.4 198.7,217.0 198.9,217.5 199.2,217.9 199.4,217.7 199.7,218.2 199.9,218.5 200.2,217.8 200.4,217.7 200.7,217.7 200.9,217.8 201.2,218.5 201.4,217.9 201.7,218.3 201.9,218.0 202.2,217.6 202.4,218.6 202.7,217.5 202.9,218.1 203.2,219.0 203.4,217.5 203.7,218.2 203.9,217.3 204.2,217.9 204.4,217.3 204.7,218.0 204.9,217.9 205.2,218.4 205.4,219.2 205.7,218.5 205.9,218.7 206.2,218.3 206.4,218.2 206.7,217.9 206.9,217.3 207.2,218.5 207.4,219.4 207.7,218.7 207.9,218.1 208.2,219.5 208.4,218.2 208.7,218.1 208.9,217.8 209.2,218.0 209.4,218.4 209.7,219.8 209.9,218.5 210.2,218.0 210.4,218.3 210.7,218.5 210.9,217.6 211.2,218.8 211.4,219.1 211.7,218.9 211.9,219.1 212.2,218.0 212.4,217.7 212.7,219.6 212.9,219.5 213.2,217.9 213.4,219.0 213.7,218.9 213.9,219.2 214.2,219.0 214.4,218.6 214.7,219.0 214.9,219.0 215.2,218.9 215.4,217.9 215.7,217.2 215.9,218.5 216.2,218.1 216.4,219.2 216.7,219.5 216.9,219.2 217.2,218.9 217.4,219.2 217.7,219.8 217.9,218.7 218.2,219.7 218.4,219.6 218.7,219.4 218.9,220.1 219.2,218.8 219.4,219.8 219.7,218.7 219.9,218.8 220.2,218.7 220.4,219.6 220.7,218.8 220.9,219.4 221.2,218.7 221.4,220.0 221.7,220.5 221.9,219.6 222.2,220.4 222.4,219.8 222.7,220.8 222.9,219.6 223.2,218.6 223.4,220.4 223.7,219.5 223.9,219.0 224.2,219.2 224.4,218.6 224.7,219.5 224.9,219.0 225.2,220.6 225.4,220.1 225.7,218.7 225.9,218.8 226.2,219.4 226.4,218.6 226.7,219.7 226.9,219.8 227.2,219.3 227.4,219.5 227.7,220.1 227.9,220.6 228.2,220.7 228.4,219.8 228.7,220.3 228.9,219.3 229.2,220.0 229.4,219.2 229.7,220.2 229.9,219.0 230.2,219.2 230.4,219.7 230.7,220.1 230.9,218.9 231.2,219.4 231.4,219.8 231.7,219.9 231.9,219.2 232.2,219.8 232.4,219.5 232.7,220.5 232.9,220.0 233.2,218.9 233.4,218.4 233.7,219.7 233.9,220.4 234.2,219.8 234.4,220.2 234.7,219.4 234.9,218.8 235.2,220.1 235.4,219.7 235.7,220.1 235.9,218.8 236.2,219.7 236.4,219.3 236.7,220.1 236.9,219.3 237.2,219.2 237.4,219.3 237.7,220.4 237.9,219.6 238.2,219.1 238.4,219.0 238.7,219.0 238.9,220.5 239.2,218.6 239.4,219.1 239.7,220.0 239.9,220.3 240.2,219.3 240.3,219.6 240.4,219.5 240.5,219.3 240.7,218.2 240.7,218.8 240.9,216.7 241.1,215.6 241.2,213.2 241.3,212.7 241.4,209.3 241.5,208.1 241.7,205.8 241.8,201.5 241.9,201.2 242.0,198.4 242.2,198.5 242.2,197.0 242.4,195.6 242.6,197.2 242.7,198.1 242.8,198.6 242.9,201.3 243.0,203.3 243.2,206.1 243.3,209.1 243.4,209.9 243.5,212.6 243.7,213.1 243.7,213.0 243.9,216.3 244.1,217.4 244.2,219.4 244.3,219.0 244.4,218.7 244.5,218.7 244.7,220.0 244.9,219.4 245.2,219.6 245.4,219.9 245.7,220.0 245.9,220.0 246.2,220.1 246.4,220.8 246.7,221.0 246.9,219.0 247.2,221.6 247.4,220.1 247.7,220.8 247.9,219.7 248.2,220.3 248.4,220.3 248.7,220.2 248.9,220.7 249.2,220.6 249.4,219.6 249.7,220.1 249.9,220.7 250.2,220.6 250.4,220.1 250.7,220.1 250.9,220.2 251.2,219.6 251.4,219.5 251.7,221.3 251.9,220.1 252.2,220.4 252.4,219.9 252.7,221.2 252.9,221.5 253.2,220.3 253.4,220.7 253.7,220.0 253.9,221.5 254.2,221.0 254.4,220.0 254.7,221.3 254.9,220.7 255.2,220.8 255.4,220.8 255.7,220.2 255.9,220.3 256.1,221.0 256.4,220.6 256.6,220.1 256.9,221.9 257.1,220.5 257.4,220.3 257.6,220.3 257.9,221.1 258.1,221.3 258.4,220.9 258.6,221.3 258.9,219.9 259.1,220.6 259.4,220.5 259.6,220.8 259.9,221.1 260.1,219.6 260.4,222.6 260.6,220.3 260.9,221.1 261.1,221.4 261.4,221.4 261.6,221.0 261.9,219.2 262.1,220.3 262.4,221.4 262.6,220.4 262.9,220.3 263.1,219.5 263.4,221.7 263.6,221.3 263.9,220.4 264.1,220.9 264.4,220.9 264.6,220.3 264.9,220.9 265.1,221.2 265.4,221.4 265.6,221.8 265.9,221.1 266.1,220.8 266.4,221.3 266.6,220.7 266.9,220.3 267.1,221.8 267.4,220.9 267.6,221.2 267.9,221.5 268.1,220.5 268.4,221.5 268.6,221.4 268.9,221.1 269.1,221.4 269.4,220.7 269.6,219.9 269.9,221.0 270.1,220.7 270.4,221.7 270.6,221.3 270.9,220.9 271.1,221.2 271.4,222.0 271.6,221.8 271.9,221.4 272.1,221.4 272.4,221.0 272.6,221.0 272.9,221.5 273.1,221.0 273.4,221.3 273.6,220.4 273.9,220.1 274.1,220.0 274.4,220.8 274.6,221.8 274.9,221.7 275.1,220.4 275.4,220.1 275.6,221.5 275.9,221.3 276.1,220.2 276.4,221.6 276.6,221.1 276.9,221.7 277.1,221.1 277.4,221.5 277.6,221.1 277.9,220.3 278.1,220.8 278.4,220.5 278.6,221.4 278.9,220.3 279.1,219.9 279.4,221.3 279.6,221.5 279.9,221.7 280.1,221.5 280.4,219.9 280.6,220.4 280.9,220.5 281.1,220.8 281.4,219.5 281.6,220.8 281.9,220.9 282.1,220.2 282.4,220.8 282.6,221.4 282.9,220.7 283.1,221.3 283.4,221.3 283.6,220.9 283.9,220.9 284.1,220.5 284.4,221.4 284.6,220.4 284.9,220.3 285.1,221.1 285.4,220.2 285.6,220.9 285.9,221.3 286.1,220.7 286.4,220.7 286.6,221.2 286.9,221.1 287.1,219.7 287.4,219.9 287.6,221.5 287.9,220.9 288.1,219.4 288.4,219.8 288.6,220.7 288.9,220.1 289.1,220.9 289.4,220.7 289.6,220.9 289.9,219.9 290.1,221.0 290.4,221.8 290.6,220.2 290.9,221.4 291.1,221.2 291.4,221.0 291.6,220.6 291.9,219.9 292.1,220.1 292.4,221.1 292.6,221.2 292.9,221.3 293.1,221.2 293.4,221.2 293.6,220.5 293.9,220.1 294.1,221.0 294.4,221.2 294.6,221.0 294.9,220.1 295.1,220.6 295.2,220.0 295.4,220.8 295.6,219.6 295.6,220.0 295.8,219.7 295.9,219.1 296.0,219.1 296.1,216.4 296.2,215.3 296.4,214.8 296.6,212.2 296.6,211.4 296.8,208.3 296.9,206.8 297.0,205.0 297.1,202.0 297.2,201.8 297.4,200.6 297.6,199.3 297.6,200.9 297.8,199.5 297.9,201.0 298.0,203.0 298.1,204.1 298.2,204.5 298.4,207.7 298.6,211.4 298.6,213.5 298.8,215.1 298.9,216.4 299.0,216.9 299.1,219.2 299.2,219.1 299.4,219.8 299.6,220.9 299.6,221.4 299.8,222.4 299.9,221.8 300.0,222.3 300.1,223.3 300.4,221.8 300.6,221.6 300.9,223.0 301.1,222.8 301.4,222.5 301.6,222.8 301.9,222.5 302.1,223.0 302.4,222.6 302.6,223.3 302.9,222.2 303.1,222.4 303.4,223.0 303.6,222.7 303.9,223.4 304.1,222.9 304.4,222.7 304.6,223.1 304.9,222.7 305.1,222.1 305.4,222.3 305.6,222.6 305.9,222.8 306.1,223.1 306.4,223.6 306.6,223.4 306.9,224.2 307.1,223.9 307.4,223.0 307.6,224.1 307.9,223.9 308.1,222.9 308.4,223.4 308.6,223.8 308.9,223.3 309.1,223.8 309.4,223.4 309.6,223.6 309.9,223.0 310.1,223.5 310.4,223.0 310.6,223.7 310.9,222.3 311.1,223.5 311.4,224.1 311.6,223.7 311.9,223.3 312.1,223.7 312.4,222.8 312.6,222.9 312.9,223.1 313.1,223.1 313.4,223.5 313.6,222.0 313.9,222.4 314.1,219.9 314.4,219.2 314.6,218.4 314.9,218.3 315.1,216.8 315.4,216.1 315.6,218.4 315.9,219.3 316.1,219.9 316.4,221.0 316.6,222.1 316.9,223.2 317.1,223.9 317.4,222.8 317.6,225.2 317.9,223.9 318.1,223.7 318.4,224.4 318.6,224.1 318.9,225.4 319.1,224.7 319.4,223.8 319.6,223.9 319.9,223.8 320.1,223.9 320.4,224.5 320.6,223.8 320.9,225.1 321.1,224.1 321.4,224.1 321.6,224.8 321.9,223.0 322.1,223.6 322.4,224.6 322.6,224.2 322.9,224.2 323.1,224.5 323.4,223.9 323.6,224.2 323.9,223.5 324.1,223.2 324.4,225.0 324.6,223.7 324.9,223.9 325.1,225.2 325.4,225.0 325.6,224.0 325.9,224.0 326.1,224.3 326.4,223.8 326.6,224.7 326.9,224.5 327.1,224.5 327.4,224.9 327.6,224.8" fill="none" stroke="#ee1111" stroke-width="2.3" stroke-linejoin="round"/>
<polyline points="368.7,264.9 368.9,265.5 369.2,268.3 369.4,266.9 369.7,263.7 369.9,266.2 370.2,265.3 370.4,266.6 370.7,264.1 370.9,266.9 371.2,267.0 371.4,269.0 371.7,267.3 371.9,267.7 372.2,264.9 372.4,270.3 372.7,264.4 372.9,268.9 373.2,266.9 373.4,266.2 373.7,266.6 373.9,266.7 374.2,268.3 374.4,267.7 374.7,270.1 374.9,265.4 375.2,268.1 375.4,267.0 375.7,269.4 375.9,265.4 376.2,268.0 376.4,268.9 376.7,266.6 376.9,270.2 377.2,269.2 377.4,270.4 377.7,270.4 377.9,267.8 378.2,268.0 378.4,268.9 378.7,270.2 378.9,270.3 379.2,268.0 379.4,268.2 379.7,267.9 379.9,268.1 380.2,268.6 380.4,268.7 380.7,271.7 380.9,268.1 381.2,268.4 381.4,269.4 381.7,267.4 381.9,268.2 382.2,268.7 382.4,269.7 382.7,266.8 382.9,270.5 383.2,268.0 383.4,268.7 383.7,269.6 383.9,269.4 384.2,269.9 384.4,268.6 384.7,268.3 384.9,268.7 385.2,266.8 385.4,269.8 385.7,267.0 385.9,266.2 386.2,270.7 386.4,267.6 386.7,266.0 386.9,270.1 387.2,267.0 387.4,268.8 387.7,266.1 387.9,266.9 388.2,264.8 388.4,264.4 388.7,265.6 388.9,266.7 389.2,267.8 389.4,270.0 389.7,265.1 389.9,267.8 390.2,265.5 390.4,266.0 390.7,264.1 390.9,264.0 391.2,264.9 391.4,264.3 391.7,265.8 391.9,264.7 392.2,267.3 392.4,265.7 392.7,265.6 392.9,266.9 393.2,266.1 393.4,265.4 393.7,265.4 393.9,265.4 394.2,267.1 394.4,266.8 394.7,266.3 394.9,266.9 395.2,265.2 395.4,266.7 395.7,264.1 395.9,267.9 396.2,266.3 396.4,266.5 396.7,267.1 396.9,266.4 397.2,266.1 397.4,268.1 397.7,266.7 397.9,265.4 398.2,267.3 398.4,264.5 398.7,269.1 398.9,266.7 399.2,267.1 399.4,270.1 399.7,270.0 399.9,267.4 400.2,268.1 400.4,268.8 400.7,269.6 400.9,267.3 401.2,267.8 401.4,269.3 401.7,268.1 401.9,268.8 402.2,268.7 402.4,266.5 402.7,267.0 402.9,264.7 403.2,268.0 403.4,270.2 403.7,267.0 403.9,270.2 404.2,270.0 404.4,268.7 404.7,268.8 404.9,269.1 405.2,267.9 405.4,268.8 405.7,269.2 405.9,270.1 406.2,270.4 406.4,268.5 406.7,270.7 406.9,268.7 407.2,269.6 407.4,270.3 407.7,269.9 407.9,269.9 408.2,270.5 408.4,269.5 408.7,269.5 408.9,270.2 409.2,271.7 409.4,270.5 409.7,273.1 409.9,271.1 410.2,267.1 410.4,270.4 410.7,273.2 410.9,271.2 411.2,270.7 411.4,270.3 411.7,273.2 411.9,272.9 412.2,272.6 412.4,272.4 412.7,273.8 412.9,273.1 413.2,270.6 413.4,273.2 413.7,272.6 413.9,272.3 414.2,273.6 414.4,272.7 414.7,269.1 414.9,274.9 415.2,274.3 415.4,273.0 415.7,272.8 415.9,273.6 416.2,271.8 416.4,273.9 416.7,273.4 416.9,273.3 417.2,272.7 417.4,273.1 417.7,275.5 417.9,275.9 418.2,274.9 418.4,274.4 418.7,273.4 418.9,275.6 419.2,276.8 419.4,272.9 419.7,276.5 419.9,272.4 420.2,274.8 420.4,275.8 420.7,273.8 420.9,273.7 421.2,276.0 421.4,276.9 421.7,275.4 421.9,277.7 422.2,275.2 422.4,278.5 422.7,276.6 422.9,276.8 423.2,277.4 423.4,277.2 423.7,279.2 423.9,279.7 424.2,277.8 424.4,277.1 424.7,275.9 424.9,276.6 425.2,277.6 425.4,277.6 425.7,277.8 425.9,278.0 426.2,278.7 426.4,276.6 426.7,277.2 426.9,280.0 427.2,279.8 427.4,278.2 427.7,280.6 427.9,278.4 428.2,279.1 428.4,277.3 428.7,280.7 428.9,279.8 429.2,281.3 429.4,281.0 429.7,280.4 429.9,280.6 430.2,282.0 430.4,280.6 430.7,280.7 430.9,281.1 431.2,282.2 431.4,282.5 431.7,283.8 431.9,281.6 432.2,283.4 432.4,281.3 432.7,283.1 432.9,282.7 433.2,284.9 433.4,283.7 433.7,282.7 433.9,284.1 434.2,284.1 434.4,283.5 434.7,283.7 434.9,283.2 435.2,287.8 435.4,284.9 435.7,286.1 435.9,283.8 436.2,284.1 436.4,285.4 436.7,285.6 436.9,287.0 437.2,285.0 437.4,286.9 437.7,288.2 437.9,285.5 438.2,287.8 438.4,285.7 438.7,287.4 438.9,287.5 439.2,289.3 439.4,286.6 439.7,287.7 439.9,288.9 440.2,286.4 440.4,287.9 440.7,287.0 440.9,287.4 441.2,289.1 441.4,289.3 441.7,291.6 441.9,290.3 442.2,290.3 442.4,288.8 442.7,288.8 442.9,289.4 443.2,286.8 443.4,291.4 443.7,288.9 443.9,288.6 444.2,289.4 444.4,291.1 444.7,291.6 444.9,289.9 445.2,290.9 445.4,290.5 445.7,289.5 445.9,291.0 446.2,290.9 446.4,289.3 446.7,292.4 446.9,289.5 447.2,291.6 447.4,290.3 447.7,290.7 447.9,290.9 448.2,292.6 448.4,290.5 448.7,291.9 448.9,294.0 449.2,291.5 449.4,292.4 449.7,293.3 449.9,292.0 450.2,293.3 450.4,292.1 450.7,293.8 450.9,293.2 451.2,292.2 451.4,294.9 451.7,293.3 451.9,293.2 452.2,292.6 452.4,293.2 452.7,293.8 452.9,294.2 453.2,295.3 453.4,292.7 453.7,293.9 453.9,295.7 454.2,294.6 454.4,294.9 454.7,296.3 454.9,295.0 455.2,295.2 455.4,294.7 455.7,296.8 455.9,296.1 456.2,294.2 456.4,295.7 456.7,293.9 456.9,296.4 457.2,295.9 457.4,295.0 457.7,294.7 457.9,293.2 458.2,296.0 458.4,295.0 458.7,294.7 458.9,295.8 459.2,294.2 459.4,294.2 459.7,294.0 459.9,293.2 460.2,297.2 460.4,294.3 460.7,294.0 460.9,295.3 461.2,291.0 461.4,294.1 461.7,294.1 461.9,293.0 462.2,294.5 462.4,291.8 462.7,294.0 462.9,294.9 463.2,291.6 463.4,292.5 463.7,294.0 463.9,294.2 464.2,293.7 464.4,294.9 464.7,294.9 464.9,293.3 465.2,294.8 465.4,293.7 465.7,293.0 465.9,292.8 466.2,296.6 466.4,295.5 466.7,297.8 466.9,294.3 467.2,295.6 467.4,296.5 467.7,296.1 467.9,296.9 468.2,296.6 468.4,295.9 468.7,294.2 468.9,295.7 469.2,298.6 469.4,297.7 469.7,298.4 469.9,296.4 470.2,296.9 470.4,296.2 470.7,297.7 470.9,297.4 471.2,297.9 471.4,299.3 471.7,296.7 471.9,298.4 472.2,296.2 472.4,298.9 472.7,297.4 472.9,297.8 473.2,298.1 473.4,299.8 473.7,298.1 473.9,297.7 474.2,297.0 474.4,298.6 474.7,297.5 474.9,298.0 475.2,298.5 475.4,299.3 475.7,298.0 475.9,299.5 476.2,300.7 476.4,297.4 476.7,300.4 476.9,301.3 477.2,298.5 477.4,299.9 477.7,297.8 477.9,299.7 478.2,299.1 478.4,299.8 478.7,298.5 478.9,298.7 479.2,299.1 479.4,298.9 479.7,299.0 479.9,299.5 480.2,298.6 480.4,299.7 480.7,300.4 480.9,297.5 481.2,300.2 481.4,299.2 481.7,298.9 481.9,298.7 482.2,299.2 482.4,299.4 482.7,300.6 482.9,298.9 483.2,301.4 483.4,299.5 483.7,301.1 483.9,301.6 484.2,299.2 484.4,301.7 484.7,302.9 484.9,300.2 485.2,301.3 485.4,300.7 485.7,300.9 485.9,300.7 486.2,300.4 486.4,301.8 486.7,302.0 486.9,301.1 487.2,302.8 487.4,302.4 487.7,302.1 487.9,300.7 488.2,303.5 488.4,303.0 488.7,299.4 488.9,300.5 489.2,301.3 489.4,302.8 489.7,303.2 489.9,301.7 490.2,302.3 490.4,302.9 490.7,300.9 490.9,302.9 491.2,302.0 491.4,302.6 491.7,302.4 491.9,301.3 492.2,301.6 492.4,302.7 492.7,302.9 492.9,302.6 493.2,304.0 493.4,302.6 493.7,301.8 493.9,302.7 494.2,303.0 494.4,303.1 494.7,304.5 494.9,303.9 495.2,304.6 495.4,304.2 495.7,303.4 495.9,304.7 496.2,303.4 496.4,304.0 496.7,302.7 496.9,303.9 497.2,303.6 497.4,304.3 497.7,305.9 497.9,306.6 498.2,305.2 498.4,304.2 498.7,305.1 498.9,304.5 499.2,303.7 499.4,304.3 499.7,304.2 499.9,303.9 500.2,306.0 500.4,304.1 500.7,304.2 500.9,305.5 501.2,304.1 501.4,303.7 501.7,304.0 501.9,305.5 502.2,305.4 502.4,305.4 502.7,304.7 502.9,304.2 503.2,306.2 503.4,303.7 503.7,305.1 503.9,303.9 504.2,304.9 504.4,305.2 504.7,306.7 504.9,302.4 505.2,306.9 505.4,304.6 505.7,305.8 505.9,306.4 506.2,304.8 506.4,305.5 506.7,306.2 506.9,305.5 507.2,304.9 507.4,305.9 507.7,305.9 507.9,304.2 508.2,307.2 508.4,306.1 508.7,303.3 508.9,305.0 509.2,307.7 509.4,307.6 509.7,306.3 509.9,304.2 510.2,305.8 510.4,307.2 510.7,306.5 510.9,305.8 511.2,305.4 511.4,307.0 511.7,306.0 511.9,306.6 512.2,306.8 512.5,308.0 512.7,306.5 513.0,306.6 513.2,304.5 513.5,307.6 513.7,307.3 514.0,306.4 514.2,304.1 514.5,305.9 514.7,306.6 515.0,308.7 515.2,307.2 515.5,307.4 515.7,307.5 516.0,308.0 516.2,305.5 516.5,305.8 516.7,305.5 517.0,306.4 517.2,306.4 517.5,306.9 517.7,305.7 518.0,306.9 518.2,306.0 518.5,309.1 518.7,306.3 519.0,309.6 519.2,308.7 519.5,305.7 519.7,308.0 520.0,307.7 520.2,305.4 520.5,307.7 520.7,307.0 521.0,307.5 521.2,306.2 521.5,307.1 521.7,307.6 522.0,307.0 522.2,306.6 522.5,307.1 522.7,306.2 523.0,307.6 523.2,304.6 523.5,308.9 523.7,307.4 524.0,307.8 524.2,308.3 524.5,306.1 524.7,309.8 525.0,306.2 525.2,307.9 525.5,307.8 525.7,308.9 526.0,307.5 526.2,306.0 526.5,307.9 526.7,304.9 527.0,307.3 527.2,307.1 527.5,309.2 527.7,307.3 528.0,307.2 528.2,306.8 528.5,306.8 528.7,307.1 529.0,308.3 529.2,306.3 529.5,307.5 529.7,306.2 530.0,307.6 530.2,307.9 530.5,306.5 530.7,307.2 531.0,307.9 531.2,308.7 531.5,308.9 531.7,307.8 532.0,306.8 532.2,306.2 532.5,308.7 532.7,309.4 533.0,308.3 533.2,309.6 533.5,307.5 533.7,307.6 534.0,309.7 534.2,307.0 534.5,308.7 534.7,308.5 535.0,308.3 535.2,309.9 535.5,307.2 535.7,307.7 536.0,305.9 536.2,307.1 536.5,307.6 536.7,307.8 537.0,308.0 537.2,308.5 537.5,307.5 537.7,306.2 538.0,308.4 538.2,308.7 538.5,307.1 538.7,307.5 539.0,310.2 539.2,309.4 539.5,309.5 539.7,309.1 540.0,308.5 540.2,307.8 540.5,309.0 540.7,308.2 541.0,308.0 541.2,308.4 541.5,308.4 541.7,309.4 542.0,307.5 542.2,311.1 542.5,307.4 542.7,308.1 543.0,309.5 543.2,307.7 543.5,308.1 543.7,308.6 544.0,305.5 544.2,308.1 544.5,307.6 544.7,308.4 545.0,309.2 545.2,309.3 545.5,310.3 545.7,310.2 546.0,309.8 546.2,308.7 546.5,309.8 546.7,307.7 547.0,308.6 547.2,310.2 547.5,309.6 547.7,307.3 548.0,308.1 548.2,309.7 548.5,309.4 548.7,309.9 549.0,306.9 549.2,307.4 549.5,308.5 549.7,307.8 550.0,308.8 550.2,308.8 550.5,309.2 550.7,308.7 551.0,309.4 551.2,309.6 551.5,309.0 551.7,307.5 552.0,310.2 552.2,309.1 552.5,309.3 552.7,309.0 553.0,307.2 553.2,309.5 553.5,308.2 553.7,307.6 554.0,310.2 554.2,308.6 554.5,309.2 554.7,309.8 555.0,310.6 555.2,307.0 555.5,308.1 555.7,309.6 556.0,308.2 556.2,305.8 556.5,309.1 556.7,309.2 557.0,309.8 557.2,309.2 557.5,308.6 557.7,309.3 558.0,309.0 558.2,308.5 558.5,309.4 558.7,309.5 559.0,308.1 559.2,310.2 559.5,310.0 559.7,310.0 560.0,306.3 560.2,309.3 560.5,309.1 560.7,308.2 561.0,309.9 561.2,307.7 561.5,310.6 561.7,309.7 562.0,308.8 562.2,310.9 562.5,309.9 562.7,309.8 563.0,308.0 563.2,310.0 563.5,310.9 563.7,310.6 564.0,308.1 564.2,311.0 564.5,311.2 564.7,310.4 565.0,309.2 565.2,308.0 565.5,308.6 565.7,309.0 566.0,309.9 566.2,310.2 566.5,308.9 566.7,307.9 567.0,309.2 567.2,308.3 567.5,311.1 567.7,308.4 568.0,310.3 568.2,310.6 568.5,308.7 568.7,310.9 569.0,309.7 569.2,309.0 569.5,308.9 569.7,310.0 570.0,311.0 570.2,307.9 570.5,310.6 570.7,309.8 571.0,309.2 571.2,309.9 571.5,310.0 571.7,310.0 572.0,310.9 572.2,309.1 572.5,312.2 572.7,311.1 573.0,309.5 573.2,308.1 573.5,310.1 573.7,309.8 574.0,311.0 574.2,311.0 574.5,312.3 574.7,310.1 575.0,311.1 575.2,309.9 575.5,310.0 575.7,312.0 576.0,310.2 576.2,310.3 576.5,310.1 576.7,310.8 577.0,311.1 577.2,310.4 577.5,309.3 577.7,310.9 578.0,309.7 578.2,310.2 578.5,310.8 578.7,310.9 579.0,308.2 579.2,312.5 579.5,311.5 579.7,312.8 580.0,313.4 580.2,309.7 580.5,310.2 580.7,311.0 581.0,311.8 581.2,310.3 581.5,310.5 581.7,312.0 582.0,309.9 582.2,311.1 582.5,312.0 582.7,310.6 583.0,311.7 583.2,310.8 583.5,309.3 583.7,310.4 584.0,310.7 584.2,310.6 584.5,311.0 584.7,311.4 585.0,311.3 585.2,311.2 585.5,310.6 585.7,310.8 586.0,310.7 586.2,310.5 586.5,312.5 586.7,309.1 587.0,311.4 587.2,309.4 587.5,310.5 587.7,312.0 588.0,310.9 588.2,312.7 588.5,310.2 588.7,310.9 589.0,310.6 589.2,311.3 589.5,311.0 589.7,310.9 590.0,311.4 590.2,312.5 590.5,311.6 590.7,311.5 591.0,311.1 591.2,310.7 591.5,310.0 591.7,310.4 592.0,311.6 592.2,309.5 592.5,312.3 592.7,311.2 593.0,310.6 593.2,311.1 593.5,312.4 593.7,312.1 594.0,312.0 594.2,313.6 594.5,314.3 594.7,310.5 595.0,312.8 595.2,311.1 595.5,310.4 595.7,311.4 596.0,313.0 596.2,311.7 596.5,311.5 596.7,313.5 597.0,312.6 597.2,312.0 597.5,314.0 597.7,312.7 598.0,311.4 598.2,311.0 598.5,311.8 598.7,312.4 599.0,313.3 599.2,313.2 599.5,312.4 599.7,311.1 600.0,313.3 600.2,312.4 600.5,311.2 600.7,311.1 601.0,312.6 601.2,312.7 601.5,313.2 601.7,311.1 602.0,314.4 602.2,310.5 602.5,312.4 602.7,313.9 603.0,313.6 603.2,311.4 603.5,313.1 603.7,313.8 604.0,313.3 604.2,311.5 604.5,314.3 604.7,310.8 605.0,312.6 605.2,311.4 605.5,312.1 605.7,312.2 606.0,313.1 606.2,311.2 606.5,312.8 606.7,314.0 607.0,312.7 607.2,313.2 607.5,313.1 607.7,311.9 608.0,312.3 608.2,312.7 608.5,313.2 608.7,314.9 609.0,314.4 609.2,312.2 609.5,312.3 609.7,311.7 610.0,310.3 610.2,314.2 610.5,313.4 610.7,310.7 611.0,312.8 611.2,315.3 611.5,313.4 611.7,313.4 612.0,313.1 612.2,312.1 612.5,311.7 612.7,312.0 613.0,313.1 613.2,312.7 613.5,313.7 613.7,314.8 614.0,313.6 614.2,313.9 614.5,312.6 614.7,311.7 615.0,315.3 615.2,313.8 615.5,314.3 615.7,312.7 616.0,311.3 616.2,314.5 616.5,310.8 616.7,313.0 617.0,312.6 617.2,313.4 617.5,314.0 617.7,314.1 618.0,311.0 618.2,314.3 618.5,311.2 618.7,313.9 619.0,312.8 619.2,312.0 619.5,312.7 619.7,311.9 620.0,313.3 620.2,314.3 620.5,314.2 620.7,313.4 621.0,314.5 621.2,313.9 621.5,315.7 621.7,313.9 622.0,312.8 622.2,313.1 622.5,312.6 622.7,313.1 623.0,313.3 623.2,314.2 623.5,314.3 623.7,313.5 624.0,313.9 624.2,312.7 624.5,312.9 624.7,310.9 625.0,312.7 625.2,313.0 625.5,316.3 625.7,312.1 626.0,313.6 626.2,313.2 626.5,311.9 626.7,313.9 627.0,313.6 627.2,312.1 627.5,311.2 627.7,313.6 628.0,312.1 628.2,314.4 628.5,313.4 628.7,314.3 629.0,313.4 629.2,315.4 629.5,314.5 629.7,315.4 630.0,313.9 630.2,312.7 630.5,312.3 630.7,313.3 631.0,314.1 631.2,313.2 631.5,316.5 631.7,313.8 632.0,314.4 632.2,314.0 632.5,312.6 632.7,315.1 633.0,314.7 633.2,314.9 633.5,313.0 633.7,314.0 634.0,314.0 634.2,315.3 634.5,312.6 634.7,314.8 635.0,315.5 635.2,313.7 635.5,313.3 635.7,315.6 636.0,314.4 636.2,315.4 636.5,315.0 636.7,315.4 637.0,314.0 637.2,312.0 637.5,314.9 637.7,313.5 638.0,315.0 638.2,313.7 638.5,316.1 638.7,314.1 639.0,315.2 639.2,315.6 639.5,314.3 639.7,314.7 640.0,314.4 640.2,313.4 640.5,316.0 640.7,313.5 641.0,312.8 641.2,313.9 641.5,314.6 641.7,314.6 642.0,314.1 642.2,314.0 642.5,312.2 642.7,315.2 643.0,316.4 643.2,313.8 643.5,312.6 643.7,315.4 644.0,314.4 644.2,311.4 644.5,313.8 644.7,313.1 645.0,313.4 645.2,316.8 645.5,315.8 645.7,314.5 646.0,314.8 646.2,316.5 646.5,313.6 646.7,315.6 647.0,314.1 647.2,315.7 647.5,315.1 647.7,314.0 648.0,316.0 648.2,315.5 648.5,316.9 648.7,314.5 649.0,315.1 649.2,314.2 649.5,316.3 649.7,314.1 650.0,315.0 650.2,316.4 650.5,315.6 650.7,315.3 651.0,315.3 651.2,315.4 651.5,315.8 651.7,314.7 652.0,312.9 652.2,316.5 652.5,314.0 652.7,317.1 653.0,315.4 653.2,318.3 653.5,316.4 653.7,315.6 654.0,316.2 654.2,313.7 654.5,315.4 654.7,314.8 655.0,315.3 655.2,313.0 655.5,312.9 655.7,316.1 656.0,315.3 656.2,314.8 656.5,315.2 656.7,314.6 657.0,314.8 657.2,316.1 657.5,315.1 657.7,316.1 658.0,314.6 658.2,313.4 658.5,314.7 658.7,315.3 659.0,314.2 659.2,315.0 659.5,314.9 659.7,316.5 660.0,316.4 660.2,316.7 660.5,314.7 660.7,315.9 661.0,316.9 661.2,315.7 661.5,315.5 661.7,314.7 662.0,316.5 662.2,315.8 662.5,316.7 662.7,315.4" fill="none" stroke="#48a8c8" stroke-width="2.3" stroke-linejoin="round"/>
<polyline points="368.7,236.3 368.9,235.6 369.2,237.2 369.4,238.2 369.7,239.3 369.9,237.9 370.2,237.0 370.4,236.7 370.7,239.0 370.9,240.3 371.2,238.4 371.4,236.3 371.7,236.8 371.9,240.5 372.2,238.6 372.4,235.8 372.7,238.3 372.9,236.8 373.2,237.6 373.4,237.9 373.7,237.6 373.9,239.5 374.2,238.7 374.4,238.0 374.7,239.5 374.9,240.1 375.2,236.7 375.4,238.7 375.7,237.7 375.9,239.0 376.2,237.4 376.4,239.4 376.7,239.3 376.9,239.0 377.2,238.0 377.4,239.0 377.7,238.1 377.9,237.8 378.2,240.0 378.4,238.1 378.7,241.4 378.9,240.7 379.2,236.9 379.4,240.1 379.7,238.1 379.9,239.7 380.2,239.8 380.4,236.9 380.7,239.4 380.9,239.3 381.2,241.1 381.4,238.0 381.7,240.7 381.9,238.2 382.2,239.2 382.4,238.5 382.7,241.7 382.9,240.5 383.2,243.1 383.4,240.6 383.7,240.9 383.9,240.9 384.2,238.9 384.4,239.6 384.7,241.6 384.9,239.1 385.2,240.0 385.4,239.7 385.7,240.5 385.9,239.2 386.2,239.5 386.4,240.0 386.7,239.8 386.9,238.4 387.2,240.8 387.4,237.8 387.7,237.9 387.9,237.7 388.2,240.8 388.4,239.0 388.7,238.1 388.9,237.8 389.2,240.0 389.4,237.9 389.7,237.6 389.9,240.1 390.2,237.6 390.4,238.8 390.7,239.2 390.9,238.6 391.2,239.1 391.4,241.0 391.7,238.4 391.9,237.4 392.2,236.6 392.4,238.8 392.7,238.6 392.9,239.4 393.2,238.3 393.4,238.3 393.7,238.0 393.9,238.2 394.2,239.1 394.4,238.3 394.7,239.0 394.9,241.4 395.2,239.4 395.4,236.6 395.7,241.1 395.9,239.2 396.2,237.5 396.4,240.1 396.7,239.0 396.9,238.2 397.2,238.3 397.4,237.9 397.7,239.3 397.9,240.8 398.2,239.0 398.4,240.1 398.7,242.1 398.9,238.1 399.2,240.1 399.4,239.4 399.7,238.5 399.9,238.7 400.2,240.1 400.4,240.8 400.7,239.6 400.9,240.4 401.2,241.4 401.4,240.9 401.7,241.7 401.9,241.3 402.2,241.4 402.4,243.3 402.7,241.8 402.9,241.2 403.2,242.0 403.4,240.0 403.7,240.8 403.9,242.4 404.2,242.3 404.4,243.5 404.7,241.6 404.9,239.8 405.2,244.4 405.4,243.4 405.7,240.7 405.9,244.0 406.2,242.4 406.4,240.1 406.7,242.0 406.9,242.0 407.2,244.9 407.4,241.9 407.7,242.8 407.9,242.9 408.2,242.8 408.4,242.3 408.7,243.9 408.9,245.1 409.2,244.7 409.4,242.8 409.7,242.6 409.9,244.4 410.2,243.5 410.4,243.7 410.7,242.5 410.9,247.3 411.2,246.1 411.4,243.8 411.7,246.3 411.9,247.0 412.2,242.3 412.4,244.8 412.7,245.1 412.9,246.6 413.2,245.7 413.4,245.7 413.7,246.1 413.9,248.7 414.2,249.2 414.4,245.9 414.7,245.5 414.9,250.2 415.2,245.7 415.4,246.4 415.7,247.3 415.9,248.0 416.2,248.8 416.4,248.1 416.7,246.6 416.9,248.5 417.2,248.3 417.4,250.5 417.7,248.2 417.9,246.7 418.2,247.2 418.4,250.5 418.7,248.1 418.9,246.3 419.2,248.3 419.4,249.2 419.7,250.8 419.9,248.2 420.2,250.4 420.4,250.7 420.7,249.0 420.9,249.7 421.2,252.3 421.4,252.3 421.7,251.4 421.9,250.8 422.2,251.9 422.4,250.4 422.7,250.6 422.9,249.7 423.2,250.9 423.4,250.9 423.7,254.5 423.9,251.0 424.2,252.9 424.4,253.0 424.7,251.3 424.9,253.1 425.2,249.1 425.4,251.9 425.7,253.0 425.9,249.1 426.2,250.7 426.4,253.5 426.7,252.0 426.9,251.1 427.2,252.1 427.4,252.0 427.7,253.6 427.9,253.4 428.2,252.6 428.4,252.3 428.7,253.1 428.9,254.9 429.2,253.8 429.4,254.2 429.7,253.4 429.9,252.1 430.2,252.9 430.4,254.7 430.7,254.2 430.9,253.1 431.2,252.3 431.4,254.5 431.7,254.1 431.9,254.2 432.2,254.3 432.4,255.2 432.7,255.3 432.9,256.3 433.2,256.3 433.4,256.9 433.7,256.4 433.9,255.2 434.2,255.6 434.4,256.4 434.7,255.6 434.9,256.7 435.2,257.5 435.4,255.3 435.7,254.3 435.9,257.9 436.2,256.7 436.4,257.6 436.7,255.3 436.9,259.0 437.2,258.0 437.4,257.1 437.7,256.9 437.9,257.6 438.2,257.4 438.4,257.3 438.7,256.4 438.9,259.2 439.2,257.8 439.4,258.0 439.7,258.1 439.9,255.3 440.2,258.7 440.4,257.8 440.7,257.9 440.9,258.4 441.2,257.2 441.4,259.4 441.7,257.7 441.9,257.5 442.2,257.6 442.4,258.9 442.7,259.6 442.9,258.2 443.2,257.2 443.4,260.2 443.7,257.8 443.9,260.5 444.2,259.1 444.4,258.4 444.7,258.6 444.9,259.9 445.2,260.5 445.4,259.3 445.7,260.6 445.9,262.0 446.2,259.4 446.4,258.3 446.7,258.4 446.9,258.0 447.2,258.9 447.4,258.7 447.7,258.0 447.9,260.1 448.2,256.6 448.4,258.0 448.7,261.8 448.9,260.6 449.2,260.0 449.4,259.9 449.7,261.4 449.9,259.9 450.2,259.4 450.4,257.9 450.7,259.1 450.9,258.4 451.2,258.3 451.4,258.3 451.7,259.0 451.9,258.6 452.2,259.9 452.4,257.4 452.7,258.6 452.9,260.8 453.2,258.7 453.4,259.9 453.7,259.7 453.9,259.9 454.2,259.1 454.4,256.7 454.7,257.9 454.9,257.6 455.0,256.3 455.2,257.4 455.4,256.4 455.7,255.9 455.9,257.8 456.2,257.3 456.4,256.5 456.4,256.1 456.7,256.4 456.9,256.3 457.1,256.1 457.2,256.4 457.4,255.7 457.7,256.2 457.8,256.2 457.9,255.8 458.2,254.3 458.4,253.9 458.5,254.9 458.7,253.8 458.9,253.4 459.2,250.2 459.4,249.3 459.7,252.0 459.9,251.4 459.9,252.5 460.2,251.0 460.4,249.8 460.6,249.1 460.7,247.3 460.9,249.1 461.2,246.8 461.3,247.7 461.4,247.0 461.7,246.5 461.9,246.6 462.0,245.0 462.2,244.7 462.4,243.9 462.7,244.1 462.9,246.1 463.2,243.8 463.4,245.5 463.4,245.1 463.7,245.1 463.9,245.4 464.1,243.6 464.2,245.3 464.4,247.0 464.7,245.1 464.8,246.0 464.9,245.6 465.2,247.4 465.4,246.6 465.5,249.6 465.7,248.1 465.9,247.6 466.2,251.9 466.4,251.9 466.7,252.2 466.9,252.8 466.9,252.0 467.2,252.9 467.4,254.6 467.6,255.3 467.7,255.5 467.9,255.4 468.2,255.3 468.3,255.8 468.4,257.6 468.7,258.4 468.9,257.0 469.0,257.0 469.2,259.2 469.4,259.0 469.7,259.4 469.9,257.6 470.2,258.9 470.4,258.9 470.4,259.7 470.7,258.0 470.9,261.3 471.1,260.4 471.2,260.6 471.4,259.1 471.7,260.4 471.8,261.9 471.9,259.0 472.2,261.1 472.4,261.6 472.7,260.3 472.9,262.0 473.2,260.9 473.4,262.7 473.7,262.0 473.9,261.8 474.2,263.8 474.4,262.7 474.7,263.3 474.9,260.8 475.2,261.4 475.4,263.1 475.7,263.2 475.9,262.3 476.2,263.3 476.4,261.4 476.7,262.8 476.9,261.5 477.2,263.1 477.4,262.3 477.7,262.2 477.9,263.0 478.2,264.9 478.4,261.9 478.7,262.4 478.9,264.2 479.2,262.6 479.4,264.9 479.7,263.3 479.9,263.2 480.2,263.5 480.4,265.0 480.7,263.8 480.9,263.7 481.2,263.4 481.4,261.5 481.7,262.2 481.9,264.7 482.2,264.0 482.4,263.7 482.7,263.8 482.9,262.6 483.2,263.5 483.4,262.2 483.7,263.5 483.9,262.3 484.2,262.9 484.4,263.5 484.7,262.7 484.9,263.7 485.2,263.5 485.4,263.4 485.7,264.4 485.9,261.4 486.2,261.3 486.4,263.6 486.7,263.9 486.9,265.0 487.2,263.8 487.4,264.0 487.7,262.3 487.9,264.2 488.2,264.3 488.4,262.6 488.7,262.9 488.9,263.8 489.2,264.4 489.4,261.1 489.7,264.4 489.9,264.7 490.2,264.4 490.4,265.0 490.7,265.4 490.9,264.0 491.2,265.6 491.4,265.0 491.7,264.4 491.9,265.8 492.2,267.3 492.4,264.4 492.7,264.3 492.9,264.5 493.2,268.5 493.4,266.3 493.7,266.7 493.9,266.1 494.2,266.1 494.4,265.2 494.7,267.6 494.9,267.9 495.2,265.7 495.4,266.9 495.7,267.4 495.9,268.3 496.2,268.7 496.4,269.8 496.7,270.2 496.9,270.1 497.2,270.5 497.4,268.0 497.7,268.7 497.9,270.6 498.2,269.9 498.4,269.7 498.7,267.7 498.9,268.0 499.2,270.8 499.4,270.6 499.7,270.0 499.9,270.0 500.2,268.8 500.4,271.1 500.7,271.9 500.9,272.7 501.2,271.1 501.4,270.9 501.7,270.0 501.9,272.5 502.2,273.1 502.4,270.7 502.7,271.7 502.9,271.6 503.2,270.9 503.4,269.0 503.7,271.3 503.9,272.3 504.2,270.3 504.4,270.9 504.7,268.7 504.9,273.3 505.2,272.5 505.4,272.1 505.7,271.8 505.9,271.5 506.2,272.2 506.4,272.0 506.7,272.2 506.9,272.5 507.2,272.7 507.4,274.3 507.7,271.2 507.9,273.1 508.2,272.3 508.4,271.8 508.7,270.6 508.9,273.8 509.2,272.2 509.4,272.5 509.7,273.8 509.9,272.2 510.2,273.4 510.4,273.4 510.7,274.3 510.9,274.6 511.2,272.7 511.4,274.6 511.7,273.6 511.9,273.8 512.2,273.5 512.5,274.6 512.7,272.6 513.0,274.1 513.2,275.1 513.5,273.7 513.7,276.1 514.0,273.3 514.2,274.3 514.5,273.6 514.7,273.5 515.0,273.0 515.2,273.7 515.5,274.2 515.7,273.5 516.0,275.3 516.2,276.0 516.5,272.8 516.7,275.3 517.0,274.7 517.2,274.7 517.5,277.1 517.7,275.8 518.0,274.9 518.2,274.8 518.5,272.3 518.7,275.4 519.0,273.8 519.2,274.8 519.5,274.8 519.7,275.7 520.0,276.8 520.2,275.8 520.5,276.1 520.7,274.5 521.0,275.3 521.2,275.6 521.5,273.3 521.7,277.0 522.0,274.1 522.2,273.5 522.5,276.6 522.7,277.1 523.0,274.2 523.2,274.3 523.5,278.1 523.7,275.1 524.0,272.9 524.2,274.4 524.5,277.2 524.7,275.8 525.0,275.9 525.2,276.4 525.5,275.8 525.7,274.8 526.0,273.5 526.2,275.6 526.5,274.0 526.7,275.1 527.0,277.0 527.2,275.8 527.5,275.3 527.7,275.3 528.0,276.0 528.2,276.2 528.5,273.9 528.7,275.5 529.0,277.1 529.2,276.1 529.5,274.5 529.7,274.6 530.0,273.2 530.2,274.5 530.5,277.1 530.7,275.3 531.0,274.5 531.2,274.8 531.5,275.3 531.7,275.3 532.0,275.1 532.2,274.7 532.5,276.1 532.7,277.1 533.0,274.9 533.2,274.9 533.5,276.8 533.7,274.0 534.0,274.9 534.2,275.2 534.5,275.7 534.7,275.3 535.0,274.7 535.2,275.9 535.5,274.4 535.7,273.8 536.0,273.5 536.2,276.4 536.5,273.8 536.7,276.1 537.0,276.4 537.2,276.5 537.5,275.5 537.7,275.1 538.0,275.8 538.2,275.1 538.5,274.4 538.7,277.1 539.0,274.8 539.2,277.7 539.5,276.3 539.7,275.3 540.0,276.3 540.2,277.1 540.5,274.4 540.7,274.9 541.0,274.8 541.2,276.1 541.5,276.3 541.7,275.9 542.0,275.2 542.2,275.4 542.5,277.2 542.7,277.1 543.0,276.1 543.2,274.6 543.5,276.6 543.7,276.3 544.0,276.3 544.2,277.8 544.5,276.9 544.7,275.0 545.0,275.0 545.2,277.5 545.5,276.3 545.7,277.0 546.0,276.0 546.2,275.1 546.5,276.4 546.7,277.8 547.0,276.5 547.2,274.9 547.5,275.8 547.7,275.6 548.0,276.3 548.2,277.1 548.5,278.1 548.7,276.3 549.0,275.6 549.2,276.1 549.5,276.0 549.7,275.6 550.0,276.0 550.2,276.0 550.5,274.7 550.7,276.5 551.0,275.6 551.2,274.9 551.5,276.4 551.7,275.4 552.0,277.7 552.2,276.4 552.5,276.0 552.7,275.1 553.0,275.4 553.2,276.7 553.5,275.1 553.7,276.6 554.0,273.6 554.2,276.0 554.5,276.6 554.7,276.1 555.0,275.7 555.2,276.8 555.5,274.8 555.7,274.7 556.0,275.8 556.2,276.9 556.5,276.1 556.7,275.4 557.0,276.0 557.2,276.1 557.5,274.3 557.7,272.7 558.0,274.5 558.2,274.0 558.5,275.0 558.7,274.3 559.0,274.7 559.2,276.0 559.5,275.6 559.7,275.5 560.0,277.3 560.2,275.0 560.5,275.1 560.7,276.8 561.0,274.3 561.2,273.8 561.5,276.8 561.7,275.8 562.0,276.1 562.2,276.1 562.5,276.4 562.7,274.9 563.0,275.3 563.2,274.2 563.5,275.5 563.7,275.6 564.0,274.9 564.2,276.1 564.5,278.4 564.7,274.1 565.0,276.2 565.2,276.3 565.5,276.4 565.7,274.4 566.0,276.5 566.2,275.9 566.5,275.1 566.7,274.9 567.0,275.4 567.2,276.1 567.5,276.1 567.7,277.5 568.0,274.7 568.2,275.7 568.5,274.6 568.7,275.8 569.0,275.1 569.2,274.2 569.5,273.4 569.7,274.0 570.0,275.0 570.2,276.2 570.5,275.4 570.7,273.3 571.0,274.0 571.2,274.5 571.5,274.3 571.7,274.5 572.0,275.2 572.2,274.5 572.5,273.6 572.7,272.3 573.0,273.9 573.2,272.6 573.5,274.2 573.7,274.8 574.0,273.1 574.2,274.5 574.5,274.4 574.7,276.8 575.0,275.4 575.2,273.0 575.5,275.6 575.7,275.7 576.0,275.1 576.2,275.0 576.5,276.2 576.7,276.3 577.0,276.2 577.2,274.8 577.5,275.7 577.7,274.4 578.0,274.6 578.2,275.6 578.5,275.2 578.7,276.0 579.0,279.1 579.2,277.0 579.5,275.7 579.7,274.4 580.0,275.8 580.2,275.2 580.5,274.5 580.7,277.6 581.0,276.3 581.2,277.3 581.5,280.2 581.7,277.2 582.0,277.1 582.2,277.4 582.5,276.8 582.7,276.3 583.0,276.9 583.2,278.4 583.5,277.0 583.7,275.8 584.0,276.0 584.2,276.3 584.5,277.4 584.7,277.9 585.0,278.0 585.2,278.8 585.5,277.3 585.7,278.5 586.0,278.0 586.2,278.4 586.5,275.8 586.7,279.1 587.0,276.2 587.2,276.7 587.5,278.7 587.7,277.5 588.0,279.8 588.2,278.1 588.5,276.9 588.7,278.2 589.0,277.6 589.2,279.7 589.5,279.8 589.7,278.9 590.0,277.7 590.2,278.2 590.5,279.3 590.7,277.4 591.0,277.4 591.2,279.1 591.5,279.0 591.7,278.0 592.0,278.0 592.2,276.3 592.5,279.6 592.7,278.3 593.0,276.9 593.2,277.2 593.5,277.5 593.7,280.3 594.0,279.2 594.2,277.1 594.5,280.5 594.7,279.9 595.0,277.4 595.2,275.8 595.5,279.6 595.7,278.0 596.0,278.5 596.2,278.1 596.5,280.0 596.7,280.2 597.0,279.5 597.2,278.6 597.5,279.0 597.7,279.4 598.0,277.1 598.2,280.1 598.5,278.5 598.7,279.1 599.0,279.0 599.2,279.8 599.5,280.0 599.7,281.2 600.0,278.5 600.2,278.0 600.5,279.1 600.7,278.3 601.0,279.9 601.2,278.1 601.5,279.2 601.7,280.0 602.0,280.1 602.2,279.3 602.5,280.6 602.7,280.5 603.0,277.3 603.2,279.5 603.5,279.3 603.7,278.8 604.0,278.5 604.2,279.2 604.5,279.5 604.7,279.4 605.0,280.6 605.2,280.2 605.5,278.5 605.7,278.3 606.0,280.0 606.2,278.4 606.5,279.3 606.7,279.6 607.0,280.2 607.2,279.7 607.5,280.7 607.7,278.7 608.0,279.8 608.2,278.4 608.5,279.3 608.7,279.3 609.0,278.2 609.2,276.4 609.5,280.1 609.7,279.5 610.0,279.3 610.2,278.4 610.5,278.8 610.7,279.6 611.0,279.1 611.2,280.3 611.5,279.2 611.7,278.3 612.0,279.7 612.2,278.4 612.5,279.3 612.7,277.2 613.0,278.7 613.2,279.6 613.5,278.4 613.7,279.0 614.0,279.6 614.2,279.1 614.5,280.8 614.7,278.7 615.0,278.7 615.2,278.7 615.5,276.8 615.7,277.2 616.0,279.3 616.2,278.4 616.5,280.1 616.7,278.5 617.0,278.4 617.2,279.6 617.5,278.7 617.7,280.1 618.0,277.2 618.2,278.7 618.5,278.9 618.7,278.7 619.0,279.3 619.2,279.1 619.5,278.0 619.7,277.3 620.0,278.8 620.2,277.8 620.5,278.7 620.7,279.1 621.0,277.8 621.2,276.6 621.5,277.3 621.7,278.3 622.0,277.2 622.2,278.7 622.5,277.5 622.7,277.5 623.0,276.7 623.2,277.3 623.5,278.5 623.7,277.0 624.0,277.1 624.2,276.6 624.5,278.3 624.7,275.9 625.0,276.8 625.2,278.5 625.5,279.1 625.7,277.4 626.0,278.7 626.2,275.6 626.5,278.6 626.7,278.1 627.0,276.6 627.2,276.1 627.5,277.5 627.7,278.3 628.0,278.5 628.2,278.3 628.5,279.0 628.7,279.0 629.0,276.8 629.2,277.9 629.5,277.8 629.7,279.5 630.0,277.9 630.2,279.5 630.5,278.6 630.7,281.0 631.0,278.5 631.2,278.6 631.5,278.5 631.7,278.9 632.0,281.3 632.2,278.3 632.5,278.0 632.7,278.7 633.0,279.7 633.2,278.0 633.5,279.9 633.7,280.0 634.0,279.0 634.2,279.0 634.5,278.5 634.7,279.0 635.0,278.5 635.2,280.7 635.5,281.2 635.7,279.2 636.0,279.5 636.2,277.6 636.5,279.1 636.7,280.0 637.0,280.0 637.2,279.9 637.5,280.7 637.7,279.9 638.0,279.5 638.2,281.6 638.5,277.9 638.7,278.8 639.0,279.3 639.2,279.3 639.5,279.3 639.7,279.9 640.0,279.4 640.2,280.2 640.5,280.9 640.7,280.3 641.0,280.5 641.2,279.4 641.5,279.2 641.7,280.2 642.0,281.5 642.2,280.9 642.5,281.7 642.7,281.6 643.0,281.8 643.2,279.8 643.5,282.0 643.7,281.5 644.0,282.9 644.2,281.3 644.5,281.1 644.7,280.6 645.0,281.0 645.2,279.1 645.5,280.6 645.7,280.8 646.0,281.9 646.2,280.2 646.5,281.1 646.7,282.9 647.0,280.5 647.2,281.9 647.5,280.5 647.7,281.0 648.0,281.6 648.2,282.1 648.5,280.6 648.7,280.1 649.0,282.8 649.2,281.4 649.5,282.1 649.7,282.2 650.0,282.1 650.2,281.1 650.5,281.2 650.7,279.8 651.0,281.6 651.2,280.9 651.5,281.4 651.7,283.4 652.0,282.2 652.2,281.6 652.5,280.1 652.7,282.3 653.0,283.2 653.2,280.8 653.5,282.1 653.7,281.1 654.0,281.5 654.2,281.3 654.5,280.1 654.7,281.2 655.0,280.1 655.2,283.2 655.5,282.9 655.7,281.9 656.0,282.2 656.2,282.0 656.5,282.1 656.7,282.1 657.0,281.7 657.2,281.8 657.5,280.6 657.7,281.0 658.0,281.4 658.2,282.3 658.5,281.7 658.7,284.1 659.0,281.9 659.2,281.8 659.5,282.6 659.7,283.3 660.0,284.1 660.2,283.3 660.5,281.7 660.7,282.1 661.0,283.4 661.2,282.6 661.5,283.2 661.7,282.3 662.0,284.1 662.2,283.9 662.5,283.6 662.7,282.6" fill="none" stroke="#e07012" stroke-width="2.3" stroke-linejoin="round"/>
<polyline points="368.7,200.5 368.9,201.6 369.2,195.4 369.4,199.0 369.7,200.7 369.9,201.3 370.2,200.4 370.4,201.7 370.7,200.0 370.9,200.5 371.2,200.0 371.4,198.3 371.7,198.7 371.9,200.6 372.2,199.3 372.4,202.1 372.7,202.2 372.9,203.0 373.2,200.5 373.4,202.6 373.7,199.4 373.9,199.6 374.2,201.0 374.4,201.3 374.7,198.7 374.9,198.6 375.2,201.7 375.4,200.1 375.7,203.1 375.9,202.0 376.2,202.0 376.4,201.9 376.7,202.9 376.9,201.4 377.2,203.2 377.4,200.9 377.7,201.4 377.9,200.8 378.2,202.6 378.4,201.9 378.7,200.6 378.9,204.7 379.2,201.4 379.4,201.8 379.7,202.5 379.9,204.5 380.2,201.8 380.4,203.1 380.7,202.2 380.9,200.1 381.2,203.3 381.4,203.6 381.7,201.9 381.9,202.2 382.2,200.2 382.4,200.2 382.7,201.8 382.9,203.3 383.2,201.7 383.4,202.7 383.7,203.7 383.9,202.4 384.2,203.0 384.4,204.2 384.7,200.4 384.9,203.2 385.2,199.5 385.4,202.7 385.7,202.3 385.9,201.3 386.2,200.5 386.4,201.9 386.7,201.4 386.9,202.0 387.2,200.6 387.4,202.6 387.7,200.4 387.9,201.3 388.2,201.2 388.4,203.4 388.7,199.6 388.9,201.1 389.2,203.2 389.4,200.7 389.7,199.8 389.9,201.9 390.2,201.2 390.4,202.8 390.7,200.4 390.9,202.0 391.2,202.7 391.4,203.3 391.7,200.5 391.9,204.0 392.2,200.9 392.4,200.1 392.7,201.0 392.9,202.5 393.2,202.0 393.4,203.1 393.7,203.2 393.9,203.0 394.2,202.3 394.4,205.2 394.7,199.8 394.9,200.6 395.2,202.3 395.4,201.4 395.7,199.7 395.9,202.1 396.2,202.3 396.4,200.1 396.7,204.6 396.9,205.3 397.2,205.3 397.4,203.0 397.7,204.0 397.9,202.4 398.2,204.2 398.4,203.1 398.7,204.7 398.9,203.8 399.2,205.7 399.4,205.5 399.7,206.1 399.9,202.4 400.2,202.2 400.4,205.3 400.7,204.0 400.9,205.4 401.2,205.4 401.4,205.3 401.7,206.4 401.9,206.0 402.2,205.9 402.4,204.2 402.7,207.8 402.9,205.7 403.2,207.1 403.4,206.2 403.7,207.6 403.9,206.2 404.2,206.4 404.4,206.4 404.7,205.4 404.9,205.7 405.2,206.4 405.4,206.6 405.7,205.5 405.9,210.0 406.2,205.8 406.4,206.8 406.7,210.5 406.9,206.5 407.2,208.5 407.4,208.5 407.7,207.5 407.9,206.0 408.2,206.0 408.4,208.1 408.7,208.8 408.9,205.5 409.2,208.6 409.4,207.7 409.7,209.8 409.9,209.0 410.2,207.9 410.4,208.5 410.7,209.2 410.9,211.1 411.2,213.3 411.4,210.1 411.7,209.9 411.9,210.8 412.2,210.1 412.4,211.1 412.7,210.9 412.9,210.5 413.2,209.7 413.4,211.0 413.7,212.1 413.9,211.2 414.2,213.2 414.4,212.6 414.7,211.3 414.9,213.9 415.2,210.4 415.4,213.4 415.7,214.4 415.9,211.9 416.2,212.2 416.4,213.6 416.7,214.3 416.9,213.1 417.2,213.0 417.4,213.9 417.7,213.2 417.9,211.4 418.2,212.8 418.4,213.1 418.7,211.3 418.9,213.8 419.2,212.4 419.4,214.4 419.7,211.7 419.9,212.5 420.2,211.9 420.4,215.4 420.7,215.4 420.9,215.8 421.2,215.9 421.4,215.2 421.7,215.3 421.9,212.2 422.2,214.8 422.4,213.8 422.7,214.1 422.9,213.1 423.2,216.3 423.4,215.0 423.7,213.0 423.9,215.6 424.2,214.9 424.4,213.8 424.7,214.8 424.9,214.3 425.2,212.4 425.4,213.5 425.7,216.0 425.9,215.9 426.2,215.9 426.4,214.2 426.7,214.9 426.9,215.8 427.2,216.7 427.4,214.9 427.7,214.7 427.9,217.4 428.2,216.2 428.4,215.7 428.7,215.4 428.9,215.6 429.2,218.4 429.4,217.7 429.7,216.1 429.9,215.2 430.2,218.8 430.4,218.8 430.7,218.4 430.9,218.1 431.2,214.9 431.4,215.7 431.7,218.1 431.9,217.2 432.2,217.9 432.4,217.1 432.7,217.0 432.9,218.6 433.2,217.6 433.4,218.1 433.7,218.5 433.9,218.6 434.2,219.8 434.4,220.2 434.7,217.0 434.9,218.4 435.2,218.1 435.4,219.9 435.7,217.8 435.9,220.1 436.2,220.1 436.4,220.0 436.7,218.2 436.9,219.2 437.2,218.2 437.4,220.0 437.7,220.7 437.9,217.8 438.2,218.7 438.4,219.6 438.7,219.2 438.9,221.6 439.2,219.8 439.4,220.3 439.7,218.7 439.9,221.9 440.2,220.3 440.4,221.1 440.7,220.4 440.9,217.9 441.2,218.5 441.4,218.9 441.7,221.0 441.9,220.0 442.2,221.1 442.4,221.0 442.7,221.0 442.9,221.8 443.2,221.0 443.4,219.0 443.7,220.1 443.9,222.8 444.2,219.7 444.4,222.6 444.7,222.9 444.9,220.4 445.2,221.5 445.4,219.5 445.7,222.1 445.9,220.3 446.2,219.8 446.4,220.8 446.7,220.8 446.9,220.7 447.2,221.6 447.4,221.2 447.7,220.7 447.9,222.5 448.2,224.2 448.4,221.5 448.7,220.7 448.9,220.4 449.2,222.2 449.4,221.2 449.7,221.5 449.9,219.2 450.2,220.2 450.4,220.1 450.7,222.4 450.9,221.0 451.2,218.4 451.4,221.7 451.7,222.3 451.9,222.4 452.2,217.7 452.4,221.0 452.7,221.6 452.9,221.2 453.2,220.2 453.4,218.3 453.7,219.7 453.9,219.7 454.2,220.5 454.4,220.4 454.7,219.3 454.9,220.3 455.2,218.0 455.4,218.2 455.7,218.7 455.8,219.3 455.9,218.1 456.2,219.5 456.4,218.3 456.5,216.7 456.7,217.6 456.9,216.2 457.2,215.7 457.4,214.7 457.7,217.3 457.9,216.3 457.9,213.4 458.2,215.7 458.4,214.8 458.6,212.9 458.7,213.6 458.9,214.6 459.2,211.5 459.3,211.3 459.4,211.4 459.7,207.9 459.9,206.5 460.0,206.1 460.2,206.5 460.4,206.3 460.7,203.0 460.9,201.0 461.2,201.3 461.4,199.5 461.4,200.3 461.7,198.1 461.9,196.6 462.1,195.9 462.2,195.5 462.4,193.2 462.7,191.9 462.8,194.4 462.9,195.3 463.2,192.5 463.4,188.8 463.5,190.5 463.7,191.4 463.9,188.1 464.2,189.2 464.4,189.4 464.7,189.2 464.9,189.7 464.9,191.8 465.2,190.9 465.4,192.0 465.6,194.7 465.7,192.4 465.9,192.4 466.2,196.4 466.3,198.4 466.4,197.3 466.7,198.8 466.9,198.6 467.0,199.2 467.2,202.9 467.4,204.2 467.7,204.9 467.9,205.0 468.2,205.8 468.4,206.9 468.4,207.0 468.7,210.1 468.9,209.8 469.1,210.7 469.2,212.4 469.4,213.3 469.7,213.5 469.8,214.3 469.9,214.3 470.2,213.0 470.4,215.6 470.5,215.4 470.7,216.0 470.9,217.2 471.2,216.8 471.4,219.2 471.7,218.2 471.9,218.8 471.9,219.1 472.2,218.9 472.4,220.1 472.6,220.4 472.7,220.4 472.9,219.3 473.2,219.4 473.4,219.9 473.7,220.8 473.9,219.1 474.2,220.3 474.4,220.2 474.7,220.9 474.9,220.9 475.2,222.9 475.4,222.6 475.7,223.3 475.9,221.5 476.2,221.7 476.4,222.3 476.7,224.3 476.9,224.4 477.2,221.9 477.4,223.3 477.7,224.8 477.9,221.5 478.2,222.4 478.4,223.9 478.7,223.3 478.9,221.4 479.2,224.1 479.4,223.5 479.7,223.1 479.9,221.0 480.2,222.1 480.4,223.6 480.7,222.7 480.9,223.0 481.2,221.8 481.4,223.6 481.7,221.7 481.9,222.9 482.2,222.2 482.4,220.8 482.7,223.3 482.9,220.4 483.2,220.9 483.4,221.7 483.7,220.1 483.9,219.6 484.2,221.3 484.4,220.9 484.7,221.0 484.9,221.7 485.2,223.5 485.4,220.6 485.7,223.6 485.9,221.2 486.2,220.8 486.4,218.0 486.7,219.2 486.9,221.2 487.2,221.6 487.4,220.2 487.7,221.5 487.9,222.2 488.2,220.7 488.4,219.7 488.7,220.4 488.9,221.2 489.2,221.9 489.4,222.5 489.7,220.8 489.9,221.9 490.2,221.7 490.4,222.1 490.7,223.3 490.9,223.6 491.2,222.0 491.4,222.1 491.7,222.2 491.9,222.7 492.2,223.0 492.4,223.5 492.7,223.4 492.9,223.1 493.2,223.2 493.4,224.8 493.7,227.5 493.9,225.8 494.2,226.1 494.4,226.1 494.7,225.8 494.9,228.3 495.2,226.2 495.4,225.8 495.7,225.8 495.9,227.6 496.2,226.6 496.4,227.1 496.7,227.3 496.9,227.2 497.2,229.0 497.4,227.4 497.7,231.8 497.9,226.8 498.2,228.6 498.4,230.4 498.7,231.1 498.9,230.6 499.2,231.4 499.4,231.4 499.7,231.5 499.9,232.1 500.2,231.9 500.4,231.6 500.7,231.7 500.9,232.9 501.2,231.9 501.4,232.9 501.7,234.1 501.9,232.9 502.2,233.9 502.4,232.3 502.7,233.2 502.9,233.6 503.2,233.4 503.4,233.8 503.7,234.9 503.9,233.3 504.2,232.9 504.4,234.0 504.7,232.2 504.9,233.8 505.2,235.1 505.4,233.9 505.7,234.5 505.9,234.4 506.2,235.3 506.4,234.6 506.7,234.3 506.9,231.0 507.2,233.6 507.4,235.0 507.7,234.1 507.9,233.5 508.2,235.3 508.4,233.5 508.7,234.1 508.9,235.2 509.2,234.0 509.4,234.8 509.7,234.6 509.9,233.4 510.2,234.2 510.4,234.4 510.7,234.1 510.9,236.0 511.2,234.9 511.4,234.3 511.7,233.5 511.9,234.7 512.2,236.4 512.5,234.8 512.7,235.9 513.0,235.6 513.2,234.7 513.5,234.2 513.7,235.8 514.0,233.6 514.2,236.0 514.5,234.2 514.7,236.3 515.0,235.1 515.2,235.4 515.5,236.7 515.7,234.5 516.0,235.7 516.2,235.3 516.5,236.2 516.7,236.5 517.0,236.1 517.2,236.0 517.5,235.4 517.7,236.5 518.0,235.7 518.2,236.1 518.5,236.2 518.7,234.6 519.0,234.9 519.2,236.4 519.5,236.2 519.7,237.5 520.0,233.7 520.2,236.5 520.5,237.4 520.7,236.4 521.0,237.1 521.2,236.3 521.5,236.3 521.7,237.3 522.0,235.0 522.2,234.0 522.5,236.9 522.7,236.5 523.0,236.5 523.2,236.7 523.5,237.1 523.7,236.0 524.0,237.0 524.2,236.8 524.5,235.3 524.7,236.3 525.0,236.8 525.2,235.7 525.5,237.6 525.7,236.2 526.0,237.4 526.2,238.1 526.5,235.1 526.7,235.2 527.0,237.2 527.2,236.4 527.5,237.2 527.7,238.5 528.0,236.2 528.2,237.6 528.5,236.4 528.7,236.1 529.0,237.2 529.2,237.0 529.5,237.9 529.7,237.1 530.0,237.7 530.2,237.4 530.5,235.1 530.7,236.5 531.0,236.5 531.2,237.8 531.5,235.8 531.7,237.1 532.0,236.5 532.2,235.0 532.5,236.8 532.7,237.6 533.0,236.6 533.2,238.0 533.5,237.4 533.7,237.4 534.0,236.5 534.2,236.9 534.5,237.6 534.7,237.1 535.0,235.8 535.2,236.9 535.5,237.5 535.7,238.3 536.0,238.0 536.2,236.1 536.5,237.9 536.7,235.5 537.0,236.5 537.2,236.3 537.5,238.8 537.7,237.9 538.0,237.5 538.2,236.6 538.5,238.5 538.7,237.0 539.0,237.7 539.2,238.4 539.5,237.0 539.7,237.8 540.0,235.2 540.2,237.9 540.5,235.5 540.7,237.7 541.0,237.6 541.2,237.8 541.5,239.8 541.7,234.7 542.0,237.8 542.2,237.0 542.5,238.2 542.7,237.7 543.0,237.5 543.2,236.9 543.5,236.7 543.7,237.8 544.0,235.9 544.2,238.6 544.5,236.9 544.7,238.0 545.0,236.2 545.2,238.0 545.5,237.3 545.7,238.3 546.0,238.8 546.2,236.9 546.5,237.6 546.7,237.7 547.0,239.0 547.2,236.1 547.5,238.1 547.7,237.4 548.0,236.2 548.2,237.1 548.5,236.7 548.7,238.6 549.0,236.4 549.2,238.4 549.5,236.9 549.7,238.1 550.0,235.5 550.2,236.5 550.5,237.5 550.7,236.3 551.0,235.7 551.2,237.3 551.5,238.1 551.7,237.3 552.0,237.0 552.2,237.7 552.5,236.8 552.7,238.2 553.0,238.3 553.2,235.8 553.5,238.3 553.7,237.9 554.0,237.4 554.2,237.9 554.5,238.6 554.7,239.1 555.0,238.8 555.2,236.8 555.5,238.5 555.7,235.3 556.0,238.0 556.2,237.8 556.5,238.0 556.7,236.0 557.0,238.5 557.2,238.3 557.5,237.1 557.7,235.4 558.0,237.2 558.2,235.9 558.5,235.1 558.7,236.0 559.0,239.2 559.2,235.2 559.5,236.3 559.7,236.8 560.0,237.6 560.2,235.5 560.5,235.5 560.7,237.4 561.0,236.7 561.2,237.7 561.5,235.2 561.7,236.3 562.0,237.3 562.2,236.4 562.5,235.1 562.7,236.4 563.0,234.2 563.2,235.4 563.5,236.9 563.7,237.0 564.0,236.5 564.2,236.7 564.5,234.4 564.7,235.3 565.0,237.0 565.2,238.3 565.5,236.3 565.7,234.9 566.0,234.8 566.2,237.0 566.5,236.9 566.7,234.4 567.0,235.8 567.2,237.1 567.5,237.0 567.7,235.0 568.0,235.3 568.2,235.9 568.5,234.2 568.7,233.6 569.0,234.5 569.2,236.4 569.5,236.3 569.7,235.6 570.0,233.8 570.2,232.9 570.5,233.8 570.7,234.9 571.0,235.9 571.2,233.8 571.5,234.8 571.7,232.8 572.0,232.4 572.2,234.6 572.5,233.4 572.7,233.6 573.0,232.3 573.2,235.6 573.5,232.9 573.7,234.9 574.0,233.3 574.2,234.6 574.5,236.4 574.7,235.3 575.0,235.3 575.2,236.2 575.5,235.9 575.7,236.9 576.0,234.0 576.2,237.0 576.5,235.7 576.7,234.6 577.0,236.4 577.2,236.4 577.5,235.9 577.7,236.9 578.0,234.7 578.2,234.4 578.5,235.6 578.7,237.4 579.0,236.9 579.2,236.4 579.5,235.9 579.7,236.6 580.0,237.9 580.2,236.2 580.5,236.3 580.7,237.5 581.0,237.8 581.2,237.3 581.5,238.8 581.7,237.6 582.0,236.4 582.2,235.2 582.5,238.9 582.7,237.5 583.0,238.2 583.2,238.4 583.5,239.4 583.7,239.2 584.0,239.2 584.2,238.5 584.5,238.1 584.7,238.7 585.0,237.6 585.2,238.9 585.5,239.7 585.7,239.4 586.0,238.8 586.2,237.7 586.5,237.8 586.7,238.0 587.0,238.3 587.2,239.2 587.5,239.3 587.7,239.4 588.0,239.9 588.2,237.9 588.5,238.7 588.7,239.5 589.0,239.8 589.2,238.3 589.5,238.3 589.7,240.2 590.0,239.8 590.2,239.6 590.5,238.8 590.7,238.2 591.0,239.2 591.2,239.5 591.5,239.8 591.7,240.2 592.0,239.4 592.2,240.6 592.5,239.0 592.7,239.7 593.0,239.5 593.2,237.6 593.5,238.1 593.7,238.9 594.0,239.6 594.2,239.8 594.5,240.8 594.7,239.5 595.0,239.1 595.2,239.8 595.5,238.2 595.7,239.3 596.0,238.5 596.2,239.6 596.5,238.8 596.7,239.1 597.0,241.5 597.2,240.7 597.5,242.2 597.7,239.8 598.0,239.4 598.2,238.8 598.5,239.6 598.7,237.8 599.0,239.7 599.2,239.0 599.5,238.2 599.7,237.8 600.0,238.7 600.2,239.2 600.5,239.6 600.7,238.0 601.0,239.6 601.2,240.0 601.5,242.0 601.7,240.1 602.0,240.7 602.2,239.0 602.5,239.8 602.7,239.0 603.0,238.9 603.2,240.3 603.5,239.5 603.7,241.3 604.0,239.7 604.2,240.2 604.5,238.5 604.7,238.7 605.0,240.4 605.2,239.0 605.5,241.1 605.7,238.9 606.0,238.8 606.2,241.7 606.5,237.9 606.7,239.2 607.0,240.2 607.2,240.3 607.5,238.5 607.7,241.9 608.0,239.2 608.2,237.6 608.5,240.6 608.7,239.1 609.0,239.7 609.2,240.4 609.5,238.7 609.7,238.9 610.0,239.5 610.2,240.5 610.5,238.2 610.7,241.1 611.0,239.9 611.2,238.4 611.5,239.6 611.7,240.1 612.0,240.8 612.2,240.4 612.5,240.7 612.7,239.3 613.0,240.2 613.2,236.7 613.5,240.5 613.7,239.4 614.0,241.1 614.2,238.7 614.5,238.8 614.7,239.4 615.0,240.1 615.2,239.6 615.5,240.3 615.7,239.2 616.0,240.3 616.2,242.1 616.5,240.4 616.7,239.7 617.0,237.5 617.2,239.6 617.5,240.0 617.7,238.6 618.0,239.8 618.2,236.4 618.5,237.9 618.7,237.6 619.0,239.0 619.2,237.5 619.5,237.3 619.7,239.8 620.0,236.6 620.2,238.6 620.5,239.1 620.7,237.6 621.0,236.9 621.2,237.5 621.5,237.0 621.7,236.7 622.0,237.7 622.2,237.4 622.5,240.5 622.7,238.6 623.0,237.4 623.2,237.8 623.5,238.9 623.7,238.3 624.0,237.1 624.2,236.2 624.5,238.8 624.7,237.0 625.0,237.2 625.2,238.4 625.5,237.2 625.7,238.3 626.0,236.7 626.2,237.2 626.5,236.9 626.7,239.3 627.0,235.6 627.2,237.0 627.5,236.3 627.7,236.5 628.0,236.0 628.2,236.6 628.5,238.8 628.7,239.1 629.0,237.0 629.2,236.4 629.5,237.3 629.7,239.6 630.0,237.9 630.2,235.8 630.5,239.0 630.7,238.0 631.0,238.9 631.2,238.7 631.5,237.0 631.7,239.5 632.0,239.2 632.2,237.8 632.5,236.2 632.7,237.4 633.0,237.5 633.2,239.5 633.5,238.2 633.7,238.3 634.0,238.9 634.2,238.4 634.5,239.4 634.7,239.4 635.0,240.1 635.2,237.9 635.5,239.6 635.7,239.0 636.0,241.6 636.2,241.0 636.5,239.1 636.7,240.6 637.0,237.8 637.2,238.5 637.5,239.4 637.7,240.0 638.0,238.6 638.2,239.9 638.5,241.2 638.7,238.3 639.0,238.6 639.2,238.0 639.5,241.3 639.7,239.0 640.0,239.7 640.2,239.3 640.5,240.1 640.7,239.9 641.0,240.5 641.2,240.5 641.5,242.1 641.7,239.5 642.0,240.7 642.2,240.4 642.5,239.6 642.7,241.5 643.0,242.6 643.2,239.5 643.5,243.3 643.7,240.6 644.0,240.7 644.2,238.0 644.5,240.9 644.7,240.7 645.0,240.6 645.2,241.6 645.5,240.7 645.7,241.3 646.0,240.3 646.2,239.8 646.5,241.1 646.7,241.7 647.0,241.8 647.2,241.2 647.5,240.4 647.7,241.2 648.0,240.9 648.2,239.9 648.5,241.6 648.7,241.1 649.0,240.1 649.2,241.0 649.5,242.0 649.7,243.0 650.0,239.5 650.2,241.1 650.5,242.0 650.7,242.7 651.0,241.9 651.2,240.5 651.5,241.1 651.7,241.6 652.0,240.8 652.2,240.5 652.5,240.3 652.7,244.4 653.0,241.8 653.2,241.5 653.5,242.5 653.7,241.9 654.0,241.7 654.2,242.1 654.5,241.1 654.7,241.5 655.0,242.9 655.2,242.7 655.5,240.9 655.7,243.6 656.0,241.7 656.2,240.5 656.5,242.9 656.7,242.9 657.0,242.6 657.2,241.2 657.5,243.5 657.7,242.9 658.0,242.7 658.2,242.6 658.5,242.8 658.7,244.8 659.0,241.9 659.2,242.8 659.5,243.7 659.7,243.4 660.0,241.8 660.2,242.5 660.5,242.3 660.7,241.2 661.0,242.5 661.2,243.7 661.5,243.1 661.7,244.0 662.0,243.3 662.2,242.1 662.5,243.4 662.7,241.1" fill="none" stroke="#ee1111" stroke-width="2.3" stroke-linejoin="round"/>
<rect x="32.9" y="21.2" width="295.5" height="301.1" fill="none" stroke="#000" stroke-width="2"/>
<line x1="32.90" y1="322.3" x2="32.90" y2="325.9" stroke="#000" stroke-width="2"/>
<line x1="52.60" y1="322.3" x2="52.60" y2="328.6" stroke="#000" stroke-width="2"/>
<line x1="72.30" y1="322.3" x2="72.30" y2="325.9" stroke="#000" stroke-width="2"/>
<line x1="92.00" y1="322.3" x2="92.00" y2="328.6" stroke="#000" stroke-width="2"/>
<line x1="111.70" y1="322.3" x2="111.70" y2="325.9" stroke="#000" stroke-width="2"/>
<line x1="131.40" y1="322.3" x2="131.40" y2="328.6" stroke="#000" stroke-width="2"/>
<line x1="151.10" y1="322.3" x2="151.10" y2="325.9" stroke="#000" stroke-width="2"/>
<line x1="170.80" y1="322.3" x2="170.80" y2="328.6" stroke="#000" stroke-width="2"/>
<line x1="190.50" y1="322.3" x2="190.50" y2="325.9" stroke="#000" stroke-width="2"/>
<line x1="210.20" y1="322.3" x2="210.20" y2="328.6" stroke="#000" stroke-width="2"/>
<line x1="229.90" y1="322.3" x2="229.90" y2="325.9" stroke="#000" stroke-width="2"/>
<line x1="249.60" y1="322.3" x2="249.60" y2="328.6" stroke="#000" stroke-width="2"/>
<line x1="269.30" y1="322.3" x2="269.30" y2="325.9" stroke="#000" stroke-width="2"/>
<line x1="289.00" y1="322.3" x2="289.00" y2="328.6" stroke="#000" stroke-width="2"/>
<line x1="308.70" y1="322.3" x2="308.70" y2="325.9" stroke="#000" stroke-width="2"/>
<line x1="328.40" y1="322.3" x2="328.40" y2="328.6" stroke="#000" stroke-width="2"/>
<rect x="367.7" y="21.2" width="295.7" height="301.1" fill="none" stroke="#000" stroke-width="2"/>
<line x1="367.70" y1="322.3" x2="367.70" y2="325.9" stroke="#000" stroke-width="2"/>
<line x1="387.41" y1="322.3" x2="387.41" y2="328.6" stroke="#000" stroke-width="2"/>
<line x1="407.13" y1="322.3" x2="407.13" y2="325.9" stroke="#000" stroke-width="2"/>
<line x1="426.84" y1="322.3" x2="426.84" y2="328.6" stroke="#000" stroke-width="2"/>
<line x1="446.55" y1="322.3" x2="446.55" y2="325.9" stroke="#000" stroke-width="2"/>
<line x1="466.27" y1="322.3" x2="466.27" y2="328.6" stroke="#000" stroke-width="2"/>
<line x1="485.98" y1="322.3" x2="485.98" y2="325.9" stroke="#000" stroke-width="2"/>
<line x1="505.69" y1="322.3" x2="505.69" y2="328.6" stroke="#000" stroke-width="2"/>
<line x1="525.41" y1="322.3" x2="525.41" y2="325.9" stroke="#000" stroke-width="2"/>
<line x1="545.12" y1="322.3" x2="545.12" y2="328.6" stroke="#000" stroke-width="2"/>
<line x1="564.83" y1="322.3" x2="564.83" y2="325.9" stroke="#000" stroke-width="2"/>
<line x1="584.55" y1="322.3" x2="584.55" y2="328.6" stroke="#000" stroke-width="2"/>
<line x1="604.26" y1="322.3" x2="604.26" y2="325.9" stroke="#000" stroke-width="2"/>
<line x1="623.97" y1="322.3" x2="623.97" y2="328.6" stroke="#000" stroke-width="2"/>
<line x1="643.69" y1="322.3" x2="643.69" y2="325.9" stroke="#000" stroke-width="2"/>
<line x1="663.40" y1="322.3" x2="663.40" y2="328.6" stroke="#000" stroke-width="2"/>
<text x="13.95" y="16.28" font-size="21.78" text-anchor="middle" textLength="26.77" lengthAdjust="spacingAndGlyphs" fill="#000" stroke="#000" stroke-width="0.2">(a)</text>
<text x="348.05" y="16.05" font-size="21.44" text-anchor="middle" textLength="27.66" lengthAdjust="spacingAndGlyphs" fill="#000" stroke="#000" stroke-width="0.2">(b)</text>
<text transform="translate(19.80,178.70) rotate(-90)" font-size="23.33" text-anchor="middle" textLength="146.54" lengthAdjust="spacingAndGlyphs" fill="#000" stroke="#000" stroke-width="0.2">Intensity (a.u.)</text>
<text transform="translate(354.79,178.75) rotate(-90)" font-size="23.29" text-anchor="middle" textLength="146.04" lengthAdjust="spacingAndGlyphs" fill="#000" stroke="#000" stroke-width="0.2">Intensity (a.u.)</text>
<text x="180.20" y="378.74" font-size="20.99" text-anchor="middle" textLength="109.54" lengthAdjust="spacingAndGlyphs" fill="#000" stroke="#000" stroke-width="0.2">2θ (degree)</text>
<text x="515.20" y="378.74" font-size="20.99" text-anchor="middle" textLength="109.54" lengthAdjust="spacingAndGlyphs" fill="#000" stroke="#000" stroke-width="0.2">2θ (degree)</text>
<text x="52.60" y="345.95" font-size="16.50" text-anchor="middle" textLength="16.96" lengthAdjust="spacingAndGlyphs" fill="#000" stroke="#000" stroke-width="0.2">20</text>
<text x="92.00" y="345.95" font-size="16.50" text-anchor="middle" textLength="16.96" lengthAdjust="spacingAndGlyphs" fill="#000" stroke="#000" stroke-width="0.2">30</text>
<text x="131.40" y="345.95" font-size="16.50" text-anchor="middle" textLength="16.96" lengthAdjust="spacingAndGlyphs" fill="#000" stroke="#000" stroke-width="0.2">40</text>
<text x="170.80" y="345.95" font-size="16.50" text-anchor="middle" textLength="16.96" lengthAdjust="spacingAndGlyphs" fill="#000" stroke="#000" stroke-width="0.2">50</text>
<text x="210.20" y="345.95" font-size="16.50" text-anchor="middle" textLength="16.96" lengthAdjust="spacingAndGlyphs" fill="#000" stroke="#000" stroke-width="0.2">60</text>
<text x="249.60" y="345.95" font-size="16.50" text-anchor="middle" textLength="16.96" lengthAdjust="spacingAndGlyphs" fill="#000" stroke="#000" stroke-width="0.2">70</text>
<text x="289.00" y="345.95" font-size="16.50" text-anchor="middle" textLength="16.96" lengthAdjust="spacingAndGlyphs" fill="#000" stroke="#000" stroke-width="0.2">80</text>
<text x="328.40" y="345.95" font-size="16.50" text-anchor="middle" textLength="16.96" lengthAdjust="spacingAndGlyphs" fill="#000" stroke="#000" stroke-width="0.2">90</text>
<text x="387.41" y="345.95" font-size="16.50" text-anchor="middle" textLength="16.96" lengthAdjust="spacingAndGlyphs" fill="#000" stroke="#000" stroke-width="0.2">20</text>
<text x="426.84" y="345.95" font-size="16.50" text-anchor="middle" textLength="16.96" lengthAdjust="spacingAndGlyphs" fill="#000" stroke="#000" stroke-width="0.2">30</text>
<text x="466.27" y="345.95" font-size="16.50" text-anchor="middle" textLength="16.96" lengthAdjust="spacingAndGlyphs" fill="#000" stroke="#000" stroke-width="0.2">40</text>
<text x="505.69" y="345.95" font-size="16.50" text-anchor="middle" textLength="16.96" lengthAdjust="spacingAndGlyphs" fill="#000" stroke="#000" stroke-width="0.2">50</text>
<text x="545.12" y="345.95" font-size="16.50" text-anchor="middle" textLength="16.96" lengthAdjust="spacingAndGlyphs" fill="#000" stroke="#000" stroke-width="0.2">60</text>
<text x="584.55" y="345.95" font-size="16.50" text-anchor="middle" textLength="16.96" lengthAdjust="spacingAndGlyphs" fill="#000" stroke="#000" stroke-width="0.2">70</text>
<text x="623.97" y="345.95" font-size="16.50" text-anchor="middle" textLength="16.96" lengthAdjust="spacingAndGlyphs" fill="#000" stroke="#000" stroke-width="0.2">80</text>
<text x="663.40" y="345.95" font-size="16.50" text-anchor="middle" textLength="16.96" lengthAdjust="spacingAndGlyphs" fill="#000" stroke="#000" stroke-width="0.2">90</text>
<text x="156.25" y="50.99" font-size="16.00" text-anchor="middle" textLength="35.41" lengthAdjust="spacingAndGlyphs" fill="#000" stroke="#000" stroke-width="0.2">(111)</text>
<text x="179.00" y="154.99" font-size="16.00" text-anchor="middle" textLength="35.41" lengthAdjust="spacingAndGlyphs" fill="#000" stroke="#000" stroke-width="0.2">(200)</text>
<text x="223.10" y="195.89" font-size="16.00" text-anchor="middle" textLength="35.41" lengthAdjust="spacingAndGlyphs" fill="#000" stroke="#000" stroke-width="0.2">(220)</text>
<text x="274.05" y="195.89" font-size="16.00" text-anchor="middle" textLength="35.41" lengthAdjust="spacingAndGlyphs" fill="#000" stroke="#000" stroke-width="0.2">(311)</text>
<text x="310.60" y="195.89" font-size="16.00" text-anchor="middle" textLength="35.41" lengthAdjust="spacingAndGlyphs" fill="#000" stroke="#000" stroke-width="0.2">(222)</text>
<text x="467.50" y="169.04" font-size="16.00" text-anchor="middle" textLength="35.41" lengthAdjust="spacingAndGlyphs" fill="#000" stroke="#000" stroke-width="0.2">(111)</text>
<text x="502.70" y="207.14" font-size="16.00" text-anchor="middle" textLength="35.41" lengthAdjust="spacingAndGlyphs" fill="#000" stroke="#000" stroke-width="0.2">(200)</text>
<text x="571.45" y="219.39" font-size="16.00" text-anchor="middle" textLength="35.41" lengthAdjust="spacingAndGlyphs" fill="#000" stroke="#000" stroke-width="0.2">(220)</text>
<text x="627.25" y="224.39" font-size="16.00" text-anchor="middle" textLength="35.41" lengthAdjust="spacingAndGlyphs" fill="#000" stroke="#000" stroke-width="0.2">(311)</text>
<text x="286.40" y="43.48" font-size="15.80" text-anchor="middle" textLength="59.77" lengthAdjust="spacingAndGlyphs" fill="#c41820" stroke="#c41820" stroke-width="0.45">PPC-0.3</text>
<text x="286.90" y="66.33" font-size="15.80" text-anchor="middle" textLength="59.77" lengthAdjust="spacingAndGlyphs" fill="#c86a1e" stroke="#c86a1e" stroke-width="0.45">PPC-0.2</text>
<text x="286.35" y="88.53" font-size="15.80" text-anchor="middle" textLength="59.77" lengthAdjust="spacingAndGlyphs" fill="#4698b0" stroke="#4698b0" stroke-width="0.45">PPC-0.1</text>
<text x="629.15" y="41.86" font-size="16.00" text-anchor="middle" textLength="46.14" lengthAdjust="spacingAndGlyphs" fill="#c41820" stroke="#c41820" stroke-width="0.45">Pd-0.3</text>
<text x="629.15" y="64.13" font-size="16.00" text-anchor="middle" textLength="46.14" lengthAdjust="spacingAndGlyphs" fill="#c86a1e" stroke="#c86a1e" stroke-width="0.45">Pd-0.2</text>
<text x="629.15" y="86.40" font-size="16.00" text-anchor="middle" textLength="46.14" lengthAdjust="spacingAndGlyphs" fill="#4698b0" stroke="#4698b0" stroke-width="0.45">Pd-0.1</text>
<line x1="219.2" y1="39.30" x2="250.6" y2="39.30" stroke="#c41820" stroke-width="2.4" stroke-linecap="round"/>
<line x1="219.2" y1="61.60" x2="250.6" y2="61.60" stroke="#c86a1e" stroke-width="2.4" stroke-linecap="round"/>
<line x1="219.2" y1="83.90" x2="250.6" y2="83.90" stroke="#4698b0" stroke-width="2.4" stroke-linecap="round"/>
<line x1="568.8" y1="37.30" x2="600.5" y2="37.30" stroke="#c41820" stroke-width="2.4" stroke-linecap="round"/>
<line x1="568.8" y1="59.57" x2="600.5" y2="59.57" stroke="#c86a1e" stroke-width="2.4" stroke-linecap="round"/>
<line x1="568.8" y1="81.84" x2="600.5" y2="81.84" stroke="#4698b0" stroke-width="2.4" stroke-linecap="round"/>
</g>
</svg>
</body></html>
